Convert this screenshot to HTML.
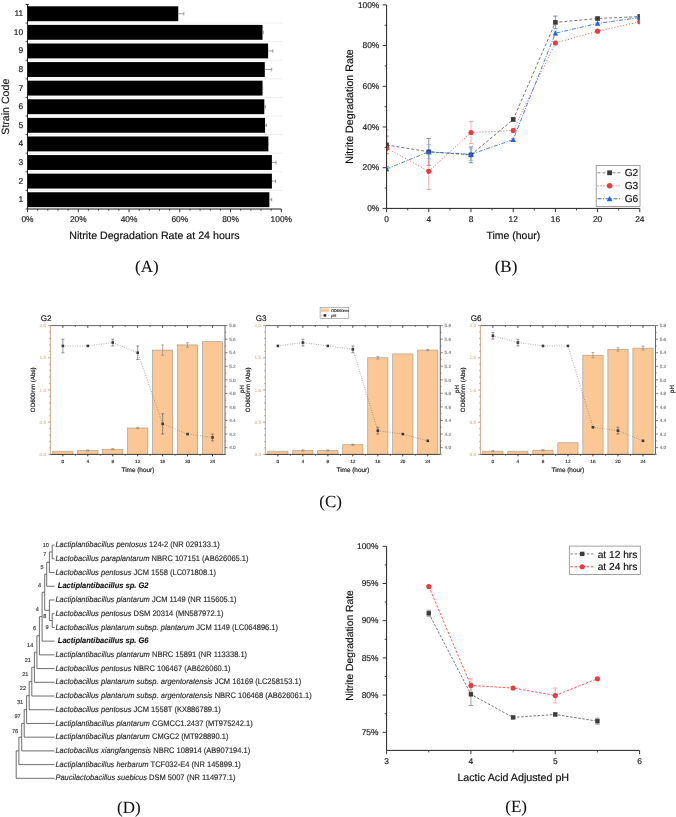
<!DOCTYPE html>
<html><head><meta charset="utf-8"><style>
html,body{margin:0;padding:0;background:#fff;width:676px;height:817px;overflow:hidden;}
svg{display:block;will-change:transform;text-rendering:geometricPrecision;}
</style></head><body>
<svg width="676" height="817" viewBox="0 0 676 817" font-family='"Liberation Sans", sans-serif'>
<rect width="676" height="817" fill="#fff"/>
<line x1="27.5" y1="209" x2="283" y2="209" stroke="#f0f0f0" stroke-width="1"/>
<line x1="27.5" y1="190.41" x2="283" y2="190.41" stroke="#f0f0f0" stroke-width="1"/>
<line x1="27.5" y1="171.81" x2="283" y2="171.81" stroke="#f0f0f0" stroke-width="1"/>
<line x1="27.5" y1="153.22" x2="283" y2="153.22" stroke="#f0f0f0" stroke-width="1"/>
<line x1="27.5" y1="134.62" x2="283" y2="134.62" stroke="#f0f0f0" stroke-width="1"/>
<line x1="27.5" y1="116.02" x2="283" y2="116.02" stroke="#f0f0f0" stroke-width="1"/>
<line x1="27.5" y1="97.43" x2="283" y2="97.43" stroke="#f0f0f0" stroke-width="1"/>
<line x1="27.5" y1="78.83" x2="283" y2="78.83" stroke="#f0f0f0" stroke-width="1"/>
<line x1="27.5" y1="60.24" x2="283" y2="60.24" stroke="#f0f0f0" stroke-width="1"/>
<line x1="27.5" y1="41.64" x2="283" y2="41.64" stroke="#f0f0f0" stroke-width="1"/>
<line x1="27.5" y1="23.05" x2="283" y2="23.05" stroke="#f0f0f0" stroke-width="1"/>
<rect x="27.5" y="192.25" width="241.87" height="14.9" fill="#000" stroke="none" stroke-width="0"/>
<line x1="269.37" y1="199.7" x2="271.66" y2="199.7" stroke="#777" stroke-width="0.7"/>
<line x1="271.66" y1="197.9" x2="271.66" y2="201.5" stroke="#777" stroke-width="0.7"/>
<rect x="27.5" y="173.66" width="244.41" height="14.9" fill="#000" stroke="none" stroke-width="0"/>
<line x1="271.91" y1="181.1" x2="275.59" y2="181.1" stroke="#777" stroke-width="0.7"/>
<line x1="275.59" y1="179.3" x2="275.59" y2="182.91" stroke="#777" stroke-width="0.7"/>
<rect x="27.5" y="155.06" width="244.41" height="14.9" fill="#000" stroke="none" stroke-width="0"/>
<line x1="271.91" y1="162.51" x2="275.97" y2="162.51" stroke="#777" stroke-width="0.7"/>
<line x1="275.97" y1="160.71" x2="275.97" y2="164.31" stroke="#777" stroke-width="0.7"/>
<rect x="27.5" y="136.47" width="240.86" height="14.9" fill="#000" stroke="none" stroke-width="0"/>
<line x1="268.36" y1="143.91" x2="268.36" y2="143.91" stroke="#777" stroke-width="0.7"/>
<line x1="268.36" y1="142.11" x2="268.36" y2="145.72" stroke="#777" stroke-width="0.7"/>
<rect x="27.5" y="117.87" width="237.56" height="14.9" fill="#000" stroke="none" stroke-width="0"/>
<line x1="265.06" y1="125.32" x2="266.58" y2="125.32" stroke="#777" stroke-width="0.7"/>
<line x1="266.58" y1="123.52" x2="266.58" y2="127.12" stroke="#777" stroke-width="0.7"/>
<rect x="27.5" y="99.27" width="236.8" height="14.9" fill="#000" stroke="none" stroke-width="0"/>
<line x1="264.3" y1="106.72" x2="265.31" y2="106.72" stroke="#777" stroke-width="0.7"/>
<line x1="265.31" y1="104.92" x2="265.31" y2="108.52" stroke="#777" stroke-width="0.7"/>
<rect x="27.5" y="80.68" width="235.02" height="14.9" fill="#000" stroke="none" stroke-width="0"/>
<line x1="262.52" y1="88.13" x2="262.77" y2="88.13" stroke="#777" stroke-width="0.7"/>
<line x1="262.77" y1="86.33" x2="262.77" y2="89.93" stroke="#777" stroke-width="0.7"/>
<rect x="27.5" y="62.08" width="237.3" height="14.9" fill="#000" stroke="none" stroke-width="0"/>
<line x1="264.8" y1="69.53" x2="271.66" y2="69.53" stroke="#777" stroke-width="0.7"/>
<line x1="271.66" y1="67.73" x2="271.66" y2="71.33" stroke="#777" stroke-width="0.7"/>
<rect x="27.5" y="43.49" width="240.6" height="14.9" fill="#000" stroke="none" stroke-width="0"/>
<line x1="268.1" y1="50.94" x2="272.92" y2="50.94" stroke="#777" stroke-width="0.7"/>
<line x1="272.92" y1="49.14" x2="272.92" y2="52.74" stroke="#777" stroke-width="0.7"/>
<rect x="27.5" y="24.89" width="235.02" height="14.9" fill="#000" stroke="none" stroke-width="0"/>
<line x1="262.52" y1="32.34" x2="263.28" y2="32.34" stroke="#777" stroke-width="0.7"/>
<line x1="263.28" y1="30.54" x2="263.28" y2="34.14" stroke="#777" stroke-width="0.7"/>
<rect x="27.5" y="6.3" width="150.76" height="14.9" fill="#000" stroke="none" stroke-width="0"/>
<line x1="178.26" y1="13.75" x2="183.84" y2="13.75" stroke="#777" stroke-width="0.7"/>
<line x1="183.84" y1="11.95" x2="183.84" y2="15.55" stroke="#777" stroke-width="0.7"/>
<line x1="27.5" y1="4.45" x2="27.5" y2="209" stroke="#222" stroke-width="1"/>
<line x1="25.5" y1="190.4" x2="27.5" y2="190.4" stroke="#222" stroke-width="0.8"/>
<line x1="25.5" y1="171.8" x2="27.5" y2="171.8" stroke="#222" stroke-width="0.8"/>
<line x1="25.5" y1="153.21" x2="27.5" y2="153.21" stroke="#222" stroke-width="0.8"/>
<line x1="25.5" y1="134.61" x2="27.5" y2="134.61" stroke="#222" stroke-width="0.8"/>
<line x1="25.5" y1="116.02" x2="27.5" y2="116.02" stroke="#222" stroke-width="0.8"/>
<line x1="25.5" y1="97.42" x2="27.5" y2="97.42" stroke="#222" stroke-width="0.8"/>
<line x1="25.5" y1="78.83" x2="27.5" y2="78.83" stroke="#222" stroke-width="0.8"/>
<line x1="25.5" y1="60.23" x2="27.5" y2="60.23" stroke="#222" stroke-width="0.8"/>
<line x1="25.5" y1="41.64" x2="27.5" y2="41.64" stroke="#222" stroke-width="0.8"/>
<line x1="25.5" y1="23.04" x2="27.5" y2="23.04" stroke="#222" stroke-width="0.8"/>
<line x1="25.5" y1="4.45" x2="27.5" y2="4.45" stroke="#222" stroke-width="0.8"/>
<line x1="25.5" y1="209" x2="27.5" y2="209" stroke="#222" stroke-width="0.8"/>
<line x1="26" y1="4.45" x2="29" y2="4.45" stroke="#222" stroke-width="0.8"/>
<line x1="27.5" y1="209" x2="281.3" y2="209" stroke="#222" stroke-width="1"/>
<line x1="27.5" y1="209" x2="27.5" y2="212.2" stroke="#222" stroke-width="0.9"/>
<line x1="37.65" y1="209" x2="37.65" y2="210.8" stroke="#222" stroke-width="0.8"/>
<line x1="47.8" y1="209" x2="47.8" y2="210.8" stroke="#222" stroke-width="0.8"/>
<line x1="57.96" y1="209" x2="57.96" y2="210.8" stroke="#222" stroke-width="0.8"/>
<line x1="68.11" y1="209" x2="68.11" y2="210.8" stroke="#222" stroke-width="0.8"/>
<line x1="78.26" y1="209" x2="78.26" y2="212.2" stroke="#222" stroke-width="0.9"/>
<line x1="88.41" y1="209" x2="88.41" y2="210.8" stroke="#222" stroke-width="0.8"/>
<line x1="98.56" y1="209" x2="98.56" y2="210.8" stroke="#222" stroke-width="0.8"/>
<line x1="108.72" y1="209" x2="108.72" y2="210.8" stroke="#222" stroke-width="0.8"/>
<line x1="118.87" y1="209" x2="118.87" y2="210.8" stroke="#222" stroke-width="0.8"/>
<line x1="129.02" y1="209" x2="129.02" y2="212.2" stroke="#222" stroke-width="0.9"/>
<line x1="139.17" y1="209" x2="139.17" y2="210.8" stroke="#222" stroke-width="0.8"/>
<line x1="149.32" y1="209" x2="149.32" y2="210.8" stroke="#222" stroke-width="0.8"/>
<line x1="159.48" y1="209" x2="159.48" y2="210.8" stroke="#222" stroke-width="0.8"/>
<line x1="169.63" y1="209" x2="169.63" y2="210.8" stroke="#222" stroke-width="0.8"/>
<line x1="179.78" y1="209" x2="179.78" y2="212.2" stroke="#222" stroke-width="0.9"/>
<line x1="189.93" y1="209" x2="189.93" y2="210.8" stroke="#222" stroke-width="0.8"/>
<line x1="200.08" y1="209" x2="200.08" y2="210.8" stroke="#222" stroke-width="0.8"/>
<line x1="210.24" y1="209" x2="210.24" y2="210.8" stroke="#222" stroke-width="0.8"/>
<line x1="220.39" y1="209" x2="220.39" y2="210.8" stroke="#222" stroke-width="0.8"/>
<line x1="230.54" y1="209" x2="230.54" y2="212.2" stroke="#222" stroke-width="0.9"/>
<line x1="240.69" y1="209" x2="240.69" y2="210.8" stroke="#222" stroke-width="0.8"/>
<line x1="250.84" y1="209" x2="250.84" y2="210.8" stroke="#222" stroke-width="0.8"/>
<line x1="261" y1="209" x2="261" y2="210.8" stroke="#222" stroke-width="0.8"/>
<line x1="271.15" y1="209" x2="271.15" y2="210.8" stroke="#222" stroke-width="0.8"/>
<line x1="281.3" y1="209" x2="281.3" y2="212.2" stroke="#222" stroke-width="0.9"/>
<text x="27.5" y="222.02" font-size="8.4" text-anchor="middle" fill="#222" font-family='"Liberation Sans", sans-serif' font-weight="normal" font-style="normal" stroke="#222" stroke-width="0.18" stroke-linejoin="round">0%</text>
<text x="78.26" y="222.02" font-size="8.4" text-anchor="middle" fill="#222" font-family='"Liberation Sans", sans-serif' font-weight="normal" font-style="normal" stroke="#222" stroke-width="0.18" stroke-linejoin="round">20%</text>
<text x="129.02" y="222.02" font-size="8.4" text-anchor="middle" fill="#222" font-family='"Liberation Sans", sans-serif' font-weight="normal" font-style="normal" stroke="#222" stroke-width="0.18" stroke-linejoin="round">40%</text>
<text x="179.78" y="222.02" font-size="8.4" text-anchor="middle" fill="#222" font-family='"Liberation Sans", sans-serif' font-weight="normal" font-style="normal" stroke="#222" stroke-width="0.18" stroke-linejoin="round">60%</text>
<text x="230.54" y="222.02" font-size="8.4" text-anchor="middle" fill="#222" font-family='"Liberation Sans", sans-serif' font-weight="normal" font-style="normal" stroke="#222" stroke-width="0.18" stroke-linejoin="round">80%</text>
<text x="281.3" y="222.02" font-size="8.4" text-anchor="middle" fill="#222" font-family='"Liberation Sans", sans-serif' font-weight="normal" font-style="normal" stroke="#222" stroke-width="0.18" stroke-linejoin="round">100%</text>
<text x="23.2" y="202.22" font-size="8.4" text-anchor="end" fill="#222" font-family='"Liberation Sans", sans-serif' font-weight="normal" font-style="normal" stroke="#222" stroke-width="0.18" stroke-linejoin="round">1</text>
<text x="23.2" y="183.63" font-size="8.4" text-anchor="end" fill="#222" font-family='"Liberation Sans", sans-serif' font-weight="normal" font-style="normal" stroke="#222" stroke-width="0.18" stroke-linejoin="round">2</text>
<text x="23.2" y="165.03" font-size="8.4" text-anchor="end" fill="#222" font-family='"Liberation Sans", sans-serif' font-weight="normal" font-style="normal" stroke="#222" stroke-width="0.18" stroke-linejoin="round">3</text>
<text x="23.2" y="146.44" font-size="8.4" text-anchor="end" fill="#222" font-family='"Liberation Sans", sans-serif' font-weight="normal" font-style="normal" stroke="#222" stroke-width="0.18" stroke-linejoin="round">4</text>
<text x="23.2" y="127.84" font-size="8.4" text-anchor="end" fill="#222" font-family='"Liberation Sans", sans-serif' font-weight="normal" font-style="normal" stroke="#222" stroke-width="0.18" stroke-linejoin="round">5</text>
<text x="23.2" y="109.25" font-size="8.4" text-anchor="end" fill="#222" font-family='"Liberation Sans", sans-serif' font-weight="normal" font-style="normal" stroke="#222" stroke-width="0.18" stroke-linejoin="round">6</text>
<text x="23.2" y="90.65" font-size="8.4" text-anchor="end" fill="#222" font-family='"Liberation Sans", sans-serif' font-weight="normal" font-style="normal" stroke="#222" stroke-width="0.18" stroke-linejoin="round">7</text>
<text x="23.2" y="72.06" font-size="8.4" text-anchor="end" fill="#222" font-family='"Liberation Sans", sans-serif' font-weight="normal" font-style="normal" stroke="#222" stroke-width="0.18" stroke-linejoin="round">8</text>
<text x="23.2" y="53.46" font-size="8.4" text-anchor="end" fill="#222" font-family='"Liberation Sans", sans-serif' font-weight="normal" font-style="normal" stroke="#222" stroke-width="0.18" stroke-linejoin="round">9</text>
<text x="23.2" y="34.87" font-size="8.4" text-anchor="end" fill="#222" font-family='"Liberation Sans", sans-serif' font-weight="normal" font-style="normal" stroke="#222" stroke-width="0.18" stroke-linejoin="round">10</text>
<text x="23.2" y="16.27" font-size="8.4" text-anchor="end" fill="#222" font-family='"Liberation Sans", sans-serif' font-weight="normal" font-style="normal" stroke="#222" stroke-width="0.18" stroke-linejoin="round">11</text>
<text x="9.1" y="106.7" font-size="10.6" text-anchor="middle" fill="#222" font-family='"Liberation Sans", sans-serif' font-weight="normal" font-style="normal" transform="rotate(-90 9.1 106.7)" stroke="#222" stroke-width="0.18" stroke-linejoin="round">Strain Code</text>
<text x="154.45" y="238.9" font-size="10.65" text-anchor="middle" fill="#111" font-family='"Liberation Sans", sans-serif' font-weight="normal" font-style="normal" stroke="#111" stroke-width="0.18" stroke-linejoin="round">Nitrite Degradation Rate at 24 hours</text>
<text x="146.9" y="271.8" font-size="17" text-anchor="middle" fill="#111" font-family='"Liberation Serif", serif' font-weight="normal" font-style="normal" stroke="#111" stroke-width="0.05" stroke-linejoin="round">(A)</text>
<defs><clipPath id="cb"><rect x="386.6" y="4.4" width="253.2" height="204"/></clipPath>
<clipPath id="ce"><rect x="386.6" y="540" width="253" height="210.4"/></clipPath></defs>
<g clip-path="url(#cb)">
<line x1="386.6" y1="136.16" x2="386.6" y2="153.66" stroke="#666" stroke-width="0.7"/>
<line x1="384.4" y1="136.16" x2="388.8" y2="136.16" stroke="#666" stroke-width="0.7"/>
<line x1="384.4" y1="153.66" x2="388.8" y2="153.66" stroke="#666" stroke-width="0.7"/>
<line x1="428.8" y1="138.4" x2="428.8" y2="165.26" stroke="#666" stroke-width="0.7"/>
<line x1="426.6" y1="138.4" x2="431" y2="138.4" stroke="#666" stroke-width="0.7"/>
<line x1="426.6" y1="165.26" x2="431" y2="165.26" stroke="#666" stroke-width="0.7"/>
<line x1="471" y1="146.94" x2="471" y2="162.82" stroke="#666" stroke-width="0.7"/>
<line x1="468.8" y1="146.94" x2="473.2" y2="146.94" stroke="#666" stroke-width="0.7"/>
<line x1="468.8" y1="162.82" x2="473.2" y2="162.82" stroke="#666" stroke-width="0.7"/>
<line x1="513.2" y1="117.84" x2="513.2" y2="121.1" stroke="#666" stroke-width="0.7"/>
<line x1="511" y1="117.84" x2="515.4" y2="117.84" stroke="#666" stroke-width="0.7"/>
<line x1="511" y1="121.1" x2="515.4" y2="121.1" stroke="#666" stroke-width="0.7"/>
<line x1="555.4" y1="16.09" x2="555.4" y2="28.71" stroke="#666" stroke-width="0.7"/>
<line x1="553.2" y1="16.09" x2="557.6" y2="16.09" stroke="#666" stroke-width="0.7"/>
<line x1="553.2" y1="28.71" x2="557.6" y2="28.71" stroke="#666" stroke-width="0.7"/>
<line x1="597.6" y1="17.31" x2="597.6" y2="19.76" stroke="#666" stroke-width="0.7"/>
<line x1="595.4" y1="17.31" x2="599.8" y2="17.31" stroke="#666" stroke-width="0.7"/>
<line x1="595.4" y1="19.76" x2="599.8" y2="19.76" stroke="#666" stroke-width="0.7"/>
<line x1="639.8" y1="14.87" x2="639.8" y2="18.13" stroke="#666" stroke-width="0.7"/>
<line x1="637.6" y1="14.87" x2="642" y2="14.87" stroke="#666" stroke-width="0.7"/>
<line x1="637.6" y1="18.13" x2="642" y2="18.13" stroke="#666" stroke-width="0.7"/>
<line x1="386.6" y1="129.85" x2="386.6" y2="166.48" stroke="#f08a8a" stroke-width="0.7"/>
<line x1="384.4" y1="129.85" x2="388.8" y2="129.85" stroke="#f08a8a" stroke-width="0.7"/>
<line x1="384.4" y1="166.48" x2="388.8" y2="166.48" stroke="#f08a8a" stroke-width="0.7"/>
<line x1="428.8" y1="153.25" x2="428.8" y2="189.47" stroke="#f08a8a" stroke-width="0.7"/>
<line x1="426.6" y1="153.25" x2="431" y2="153.25" stroke="#f08a8a" stroke-width="0.7"/>
<line x1="426.6" y1="189.47" x2="431" y2="189.47" stroke="#f08a8a" stroke-width="0.7"/>
<line x1="471" y1="121.51" x2="471" y2="143.48" stroke="#f08a8a" stroke-width="0.7"/>
<line x1="468.8" y1="121.51" x2="473.2" y2="121.51" stroke="#f08a8a" stroke-width="0.7"/>
<line x1="468.8" y1="143.48" x2="473.2" y2="143.48" stroke="#f08a8a" stroke-width="0.7"/>
<line x1="513.2" y1="128.83" x2="513.2" y2="132.09" stroke="#f08a8a" stroke-width="0.7"/>
<line x1="511" y1="128.83" x2="515.4" y2="128.83" stroke="#f08a8a" stroke-width="0.7"/>
<line x1="511" y1="132.09" x2="515.4" y2="132.09" stroke="#f08a8a" stroke-width="0.7"/>
<line x1="555.4" y1="41.12" x2="555.4" y2="44.79" stroke="#f08a8a" stroke-width="0.7"/>
<line x1="553.2" y1="41.12" x2="557.6" y2="41.12" stroke="#f08a8a" stroke-width="0.7"/>
<line x1="553.2" y1="44.79" x2="557.6" y2="44.79" stroke="#f08a8a" stroke-width="0.7"/>
<line x1="597.6" y1="29.73" x2="597.6" y2="32.58" stroke="#f08a8a" stroke-width="0.7"/>
<line x1="595.4" y1="29.73" x2="599.8" y2="29.73" stroke="#f08a8a" stroke-width="0.7"/>
<line x1="595.4" y1="32.58" x2="599.8" y2="32.58" stroke="#f08a8a" stroke-width="0.7"/>
<line x1="639.8" y1="20.16" x2="639.8" y2="23.42" stroke="#f08a8a" stroke-width="0.7"/>
<line x1="637.6" y1="20.16" x2="642" y2="20.16" stroke="#f08a8a" stroke-width="0.7"/>
<line x1="637.6" y1="23.42" x2="642" y2="23.42" stroke="#f08a8a" stroke-width="0.7"/>
<line x1="386.6" y1="166.89" x2="386.6" y2="170.96" stroke="#7aa6ee" stroke-width="0.7"/>
<line x1="384.4" y1="166.89" x2="388.8" y2="166.89" stroke="#7aa6ee" stroke-width="0.7"/>
<line x1="384.4" y1="170.96" x2="388.8" y2="170.96" stroke="#7aa6ee" stroke-width="0.7"/>
<line x1="428.8" y1="144.7" x2="428.8" y2="158.95" stroke="#7aa6ee" stroke-width="0.7"/>
<line x1="426.6" y1="144.7" x2="431" y2="144.7" stroke="#7aa6ee" stroke-width="0.7"/>
<line x1="426.6" y1="158.95" x2="431" y2="158.95" stroke="#7aa6ee" stroke-width="0.7"/>
<line x1="471" y1="148.16" x2="471" y2="160.37" stroke="#7aa6ee" stroke-width="0.7"/>
<line x1="468.8" y1="148.16" x2="473.2" y2="148.16" stroke="#7aa6ee" stroke-width="0.7"/>
<line x1="468.8" y1="160.37" x2="473.2" y2="160.37" stroke="#7aa6ee" stroke-width="0.7"/>
<line x1="513.2" y1="138.6" x2="513.2" y2="140.63" stroke="#7aa6ee" stroke-width="0.7"/>
<line x1="511" y1="138.6" x2="515.4" y2="138.6" stroke="#7aa6ee" stroke-width="0.7"/>
<line x1="511" y1="140.63" x2="515.4" y2="140.63" stroke="#7aa6ee" stroke-width="0.7"/>
<line x1="555.4" y1="31.15" x2="555.4" y2="35.22" stroke="#7aa6ee" stroke-width="0.7"/>
<line x1="553.2" y1="31.15" x2="557.6" y2="31.15" stroke="#7aa6ee" stroke-width="0.7"/>
<line x1="553.2" y1="35.22" x2="557.6" y2="35.22" stroke="#7aa6ee" stroke-width="0.7"/>
<line x1="597.6" y1="22.2" x2="597.6" y2="24.64" stroke="#7aa6ee" stroke-width="0.7"/>
<line x1="595.4" y1="22.2" x2="599.8" y2="22.2" stroke="#7aa6ee" stroke-width="0.7"/>
<line x1="595.4" y1="24.64" x2="599.8" y2="24.64" stroke="#7aa6ee" stroke-width="0.7"/>
<line x1="639.8" y1="16.09" x2="639.8" y2="18.94" stroke="#7aa6ee" stroke-width="0.7"/>
<line x1="637.6" y1="16.09" x2="642" y2="16.09" stroke="#7aa6ee" stroke-width="0.7"/>
<line x1="637.6" y1="18.94" x2="642" y2="18.94" stroke="#7aa6ee" stroke-width="0.7"/>
<polyline points="386.6,144.91 428.8,151.83 471,154.88 513.2,119.47 555.4,22.4 597.6,18.53 639.8,16.5" fill="none" stroke="#555" stroke-width="0.8" stroke-dasharray="3,2"/>
<polyline points="386.6,148.16 428.8,171.36 471,132.49 513.2,130.46 555.4,42.95 597.6,31.15 639.8,21.79" fill="none" stroke="#ec3a3e" stroke-width="0.8" stroke-dasharray="1,2"/>
<polyline points="386.6,168.92 428.8,151.83 471,154.27 513.2,139.62 555.4,33.19 597.6,23.42 639.8,17.52" fill="none" stroke="#1e64dc" stroke-width="0.8" stroke-dasharray="4,1.5,1,1.5"/>
<rect x="384.3" y="142.61" width="4.6" height="4.6" fill="#3c3c3c" stroke="none" stroke-width="0"/>
<rect x="426.5" y="149.53" width="4.6" height="4.6" fill="#3c3c3c" stroke="none" stroke-width="0"/>
<rect x="468.7" y="152.58" width="4.6" height="4.6" fill="#3c3c3c" stroke="none" stroke-width="0"/>
<rect x="510.9" y="117.17" width="4.6" height="4.6" fill="#3c3c3c" stroke="none" stroke-width="0"/>
<rect x="553.1" y="20.1" width="4.6" height="4.6" fill="#3c3c3c" stroke="none" stroke-width="0"/>
<rect x="595.3" y="16.23" width="4.6" height="4.6" fill="#3c3c3c" stroke="none" stroke-width="0"/>
<rect x="637.5" y="14.2" width="4.6" height="4.6" fill="#3c3c3c" stroke="none" stroke-width="0"/>
<circle cx="386.6" cy="148.16" r="2.55" fill="#ec3a3e"/>
<circle cx="428.8" cy="171.36" r="2.55" fill="#ec3a3e"/>
<circle cx="471" cy="132.49" r="2.55" fill="#ec3a3e"/>
<circle cx="513.2" cy="130.46" r="2.55" fill="#ec3a3e"/>
<circle cx="555.4" cy="42.95" r="2.55" fill="#ec3a3e"/>
<circle cx="597.6" cy="31.15" r="2.55" fill="#ec3a3e"/>
<circle cx="639.8" cy="21.79" r="2.55" fill="#ec3a3e"/>
<polygon points="386.6,166.22 383.9,171.32 389.3,171.32" fill="#1e64dc"/>
<polygon points="428.8,149.13 426.1,154.23 431.5,154.23" fill="#1e64dc"/>
<polygon points="471,151.57 468.3,156.67 473.7,156.67" fill="#1e64dc"/>
<polygon points="513.2,136.92 510.5,142.02 515.9,142.02" fill="#1e64dc"/>
<polygon points="555.4,30.49 552.7,35.59 558.1,35.59" fill="#1e64dc"/>
<polygon points="597.6,20.72 594.9,25.82 600.3,25.82" fill="#1e64dc"/>
<polygon points="639.8,14.82 637.1,19.92 642.5,19.92" fill="#1e64dc"/>
</g>
<line x1="386.6" y1="4.9" x2="386.6" y2="208.4" stroke="#222" stroke-width="1"/>
<line x1="386.6" y1="208.4" x2="639.8" y2="208.4" stroke="#222" stroke-width="1"/>
<line x1="382.6" y1="208.4" x2="386.6" y2="208.4" stroke="#222" stroke-width="0.9"/>
<text x="379.3" y="211.02" font-size="8.4" text-anchor="end" fill="#222" font-family='"Liberation Sans", sans-serif' font-weight="normal" font-style="normal" stroke="#222" stroke-width="0.18" stroke-linejoin="round">0%</text>
<line x1="384.6" y1="188.05" x2="386.6" y2="188.05" stroke="#222" stroke-width="0.8"/>
<line x1="382.6" y1="167.7" x2="386.6" y2="167.7" stroke="#222" stroke-width="0.9"/>
<text x="379.3" y="170.32" font-size="8.4" text-anchor="end" fill="#222" font-family='"Liberation Sans", sans-serif' font-weight="normal" font-style="normal" stroke="#222" stroke-width="0.18" stroke-linejoin="round">20%</text>
<line x1="384.6" y1="147.35" x2="386.6" y2="147.35" stroke="#222" stroke-width="0.8"/>
<line x1="382.6" y1="127" x2="386.6" y2="127" stroke="#222" stroke-width="0.9"/>
<text x="379.3" y="129.62" font-size="8.4" text-anchor="end" fill="#222" font-family='"Liberation Sans", sans-serif' font-weight="normal" font-style="normal" stroke="#222" stroke-width="0.18" stroke-linejoin="round">40%</text>
<line x1="384.6" y1="106.65" x2="386.6" y2="106.65" stroke="#222" stroke-width="0.8"/>
<line x1="382.6" y1="86.3" x2="386.6" y2="86.3" stroke="#222" stroke-width="0.9"/>
<text x="379.3" y="88.92" font-size="8.4" text-anchor="end" fill="#222" font-family='"Liberation Sans", sans-serif' font-weight="normal" font-style="normal" stroke="#222" stroke-width="0.18" stroke-linejoin="round">60%</text>
<line x1="384.6" y1="65.95" x2="386.6" y2="65.95" stroke="#222" stroke-width="0.8"/>
<line x1="382.6" y1="45.6" x2="386.6" y2="45.6" stroke="#222" stroke-width="0.9"/>
<text x="379.3" y="48.22" font-size="8.4" text-anchor="end" fill="#222" font-family='"Liberation Sans", sans-serif' font-weight="normal" font-style="normal" stroke="#222" stroke-width="0.18" stroke-linejoin="round">80%</text>
<line x1="384.6" y1="25.25" x2="386.6" y2="25.25" stroke="#222" stroke-width="0.8"/>
<line x1="382.6" y1="4.9" x2="386.6" y2="4.9" stroke="#222" stroke-width="0.9"/>
<text x="379.3" y="7.52" font-size="8.4" text-anchor="end" fill="#222" font-family='"Liberation Sans", sans-serif' font-weight="normal" font-style="normal" stroke="#222" stroke-width="0.18" stroke-linejoin="round">100%</text>
<line x1="386.6" y1="208.4" x2="386.6" y2="212.2" stroke="#222" stroke-width="0.9"/>
<text x="386.6" y="222.32" font-size="8.4" text-anchor="middle" fill="#222" font-family='"Liberation Sans", sans-serif' font-weight="normal" font-style="normal" stroke="#222" stroke-width="0.18" stroke-linejoin="round">0</text>
<line x1="407.7" y1="208.4" x2="407.7" y2="210.4" stroke="#222" stroke-width="0.8"/>
<line x1="428.8" y1="208.4" x2="428.8" y2="212.2" stroke="#222" stroke-width="0.9"/>
<text x="428.8" y="222.32" font-size="8.4" text-anchor="middle" fill="#222" font-family='"Liberation Sans", sans-serif' font-weight="normal" font-style="normal" stroke="#222" stroke-width="0.18" stroke-linejoin="round">4</text>
<line x1="449.9" y1="208.4" x2="449.9" y2="210.4" stroke="#222" stroke-width="0.8"/>
<line x1="471" y1="208.4" x2="471" y2="212.2" stroke="#222" stroke-width="0.9"/>
<text x="471" y="222.32" font-size="8.4" text-anchor="middle" fill="#222" font-family='"Liberation Sans", sans-serif' font-weight="normal" font-style="normal" stroke="#222" stroke-width="0.18" stroke-linejoin="round">8</text>
<line x1="492.1" y1="208.4" x2="492.1" y2="210.4" stroke="#222" stroke-width="0.8"/>
<line x1="513.2" y1="208.4" x2="513.2" y2="212.2" stroke="#222" stroke-width="0.9"/>
<text x="513.2" y="222.32" font-size="8.4" text-anchor="middle" fill="#222" font-family='"Liberation Sans", sans-serif' font-weight="normal" font-style="normal" stroke="#222" stroke-width="0.18" stroke-linejoin="round">12</text>
<line x1="534.3" y1="208.4" x2="534.3" y2="210.4" stroke="#222" stroke-width="0.8"/>
<line x1="555.4" y1="208.4" x2="555.4" y2="212.2" stroke="#222" stroke-width="0.9"/>
<text x="555.4" y="222.32" font-size="8.4" text-anchor="middle" fill="#222" font-family='"Liberation Sans", sans-serif' font-weight="normal" font-style="normal" stroke="#222" stroke-width="0.18" stroke-linejoin="round">16</text>
<line x1="576.5" y1="208.4" x2="576.5" y2="210.4" stroke="#222" stroke-width="0.8"/>
<line x1="597.6" y1="208.4" x2="597.6" y2="212.2" stroke="#222" stroke-width="0.9"/>
<text x="597.6" y="222.32" font-size="8.4" text-anchor="middle" fill="#222" font-family='"Liberation Sans", sans-serif' font-weight="normal" font-style="normal" stroke="#222" stroke-width="0.18" stroke-linejoin="round">20</text>
<line x1="618.7" y1="208.4" x2="618.7" y2="210.4" stroke="#222" stroke-width="0.8"/>
<line x1="639.8" y1="208.4" x2="639.8" y2="212.2" stroke="#222" stroke-width="0.9"/>
<text x="639.8" y="222.32" font-size="8.4" text-anchor="middle" fill="#222" font-family='"Liberation Sans", sans-serif' font-weight="normal" font-style="normal" stroke="#222" stroke-width="0.18" stroke-linejoin="round">24</text>
<text x="353.1" y="106.5" font-size="10.7" text-anchor="middle" fill="#111" font-family='"Liberation Sans", sans-serif' font-weight="normal" font-style="normal" transform="rotate(-90 353.1 106.5)" stroke="#111" stroke-width="0.18" stroke-linejoin="round">Nitrite Degradation Rate</text>
<text x="513.35" y="239" font-size="10.5" text-anchor="middle" fill="#111" font-family='"Liberation Sans", sans-serif' font-weight="normal" font-style="normal" stroke="#111" stroke-width="0.18" stroke-linejoin="round">Time (hour)</text>
<text x="506" y="271.7" font-size="17" text-anchor="middle" fill="#111" font-family='"Liberation Serif", serif' font-weight="normal" font-style="normal" stroke="#111" stroke-width="0.05" stroke-linejoin="round">(B)</text>
<rect x="596.2" y="165.4" width="43.8" height="41.2" fill="#fff" stroke="#8a8a8a" stroke-width="0.8"/>
<line x1="597.5" y1="172.8" x2="620.8" y2="172.8" stroke="#777" stroke-width="0.9" stroke-dasharray="3,2"/>
<rect x="607.19" y="170.39" width="4.83" height="4.83" fill="#3c3c3c" stroke="none" stroke-width="0"/>
<text x="624.7" y="176.47" font-size="10.2" text-anchor="start" fill="#111" font-family='"Liberation Sans", sans-serif' font-weight="normal" font-style="normal" stroke="#111" stroke-width="0.18" stroke-linejoin="round">G2</text>
<line x1="597.5" y1="185.8" x2="620.8" y2="185.8" stroke="#ec3a3e" stroke-width="0.9" stroke-dasharray="1,2"/>
<circle cx="609.6" cy="185.8" r="2.68" fill="#ec3a3e"/>
<text x="624.7" y="189.47" font-size="10.2" text-anchor="start" fill="#111" font-family='"Liberation Sans", sans-serif' font-weight="normal" font-style="normal" stroke="#111" stroke-width="0.18" stroke-linejoin="round">G3</text>
<line x1="597.5" y1="198.8" x2="620.8" y2="198.8" stroke="#1e64dc" stroke-width="0.9" stroke-dasharray="4,1.5,1,1.5"/>
<polygon points="609.6,195.98 606.76,201.32 612.44,201.32" fill="#1e64dc"/>
<text x="624.7" y="202.47" font-size="10.2" text-anchor="start" fill="#111" font-family='"Liberation Sans", sans-serif' font-weight="normal" font-style="normal" stroke="#111" stroke-width="0.18" stroke-linejoin="round">G6</text>
<rect x="52.77" y="451.18" width="20.2" height="3.22" fill="#fbc794" stroke="#a09488" stroke-width="0.6"/>
<rect x="77.71" y="450.54" width="20.2" height="3.86" fill="#fbc794" stroke="#a09488" stroke-width="0.6"/>
<rect x="102.66" y="449.25" width="20.2" height="5.15" fill="#fbc794" stroke="#a09488" stroke-width="0.6"/>
<rect x="127.6" y="428" width="20.2" height="26.4" fill="#fbc794" stroke="#a09488" stroke-width="0.6"/>
<rect x="152.54" y="350.07" width="20.2" height="104.33" fill="#fbc794" stroke="#a09488" stroke-width="0.6"/>
<rect x="177.49" y="344.92" width="20.2" height="109.48" fill="#fbc794" stroke="#a09488" stroke-width="0.6"/>
<rect x="202.43" y="341.7" width="20.2" height="112.7" fill="#fbc794" stroke="#a09488" stroke-width="0.6"/>
<line x1="87.81" y1="449.89" x2="87.81" y2="451.18" stroke="#8a7f77" stroke-width="0.6"/>
<line x1="86.31" y1="449.89" x2="89.31" y2="449.89" stroke="#8a7f77" stroke-width="0.6"/>
<line x1="86.31" y1="451.18" x2="89.31" y2="451.18" stroke="#8a7f77" stroke-width="0.6"/>
<line x1="112.76" y1="448.6" x2="112.76" y2="449.89" stroke="#8a7f77" stroke-width="0.6"/>
<line x1="111.26" y1="448.6" x2="114.26" y2="448.6" stroke="#8a7f77" stroke-width="0.6"/>
<line x1="111.26" y1="449.89" x2="114.26" y2="449.89" stroke="#8a7f77" stroke-width="0.6"/>
<line x1="137.7" y1="427.35" x2="137.7" y2="428.64" stroke="#8a7f77" stroke-width="0.6"/>
<line x1="136.2" y1="427.35" x2="139.2" y2="427.35" stroke="#8a7f77" stroke-width="0.6"/>
<line x1="136.2" y1="428.64" x2="139.2" y2="428.64" stroke="#8a7f77" stroke-width="0.6"/>
<line x1="162.64" y1="344.92" x2="162.64" y2="355.22" stroke="#8a7f77" stroke-width="0.6"/>
<line x1="161.14" y1="344.92" x2="164.14" y2="344.92" stroke="#8a7f77" stroke-width="0.6"/>
<line x1="161.14" y1="355.22" x2="164.14" y2="355.22" stroke="#8a7f77" stroke-width="0.6"/>
<line x1="187.59" y1="342.67" x2="187.59" y2="347.17" stroke="#8a7f77" stroke-width="0.6"/>
<line x1="186.09" y1="342.67" x2="189.09" y2="342.67" stroke="#8a7f77" stroke-width="0.6"/>
<line x1="186.09" y1="347.17" x2="189.09" y2="347.17" stroke="#8a7f77" stroke-width="0.6"/>
<line x1="62.87" y1="339.16" x2="62.87" y2="352.71" stroke="#555" stroke-width="0.6"/>
<line x1="61.37" y1="339.16" x2="64.37" y2="339.16" stroke="#555" stroke-width="0.6"/>
<line x1="61.37" y1="352.71" x2="64.37" y2="352.71" stroke="#555" stroke-width="0.6"/>
<line x1="112.76" y1="339.16" x2="112.76" y2="345.94" stroke="#555" stroke-width="0.6"/>
<line x1="111.26" y1="339.16" x2="114.26" y2="339.16" stroke="#555" stroke-width="0.6"/>
<line x1="111.26" y1="345.94" x2="114.26" y2="345.94" stroke="#555" stroke-width="0.6"/>
<line x1="137.7" y1="345.94" x2="137.7" y2="359.49" stroke="#555" stroke-width="0.6"/>
<line x1="136.2" y1="345.94" x2="139.2" y2="345.94" stroke="#555" stroke-width="0.6"/>
<line x1="136.2" y1="359.49" x2="139.2" y2="359.49" stroke="#555" stroke-width="0.6"/>
<line x1="162.64" y1="413.73" x2="162.64" y2="434.06" stroke="#555" stroke-width="0.6"/>
<line x1="161.14" y1="413.73" x2="164.14" y2="413.73" stroke="#555" stroke-width="0.6"/>
<line x1="161.14" y1="434.06" x2="164.14" y2="434.06" stroke="#555" stroke-width="0.6"/>
<line x1="212.53" y1="434.06" x2="212.53" y2="440.84" stroke="#555" stroke-width="0.6"/>
<line x1="211.03" y1="434.06" x2="214.03" y2="434.06" stroke="#555" stroke-width="0.6"/>
<line x1="211.03" y1="440.84" x2="214.03" y2="440.84" stroke="#555" stroke-width="0.6"/>
<polyline points="62.87,345.94 87.81,345.94 112.76,342.55 137.7,352.71 162.64,423.89 187.59,434.06 212.53,437.45" fill="none" stroke="#666" stroke-width="0.65" stroke-dasharray="0.8,1.6"/>
<rect x="61.57" y="344.64" width="2.6" height="2.6" fill="#3a3a3a" stroke="none" stroke-width="0"/>
<rect x="86.51" y="344.64" width="2.6" height="2.6" fill="#3a3a3a" stroke="none" stroke-width="0"/>
<rect x="111.46" y="341.25" width="2.6" height="2.6" fill="#3a3a3a" stroke="none" stroke-width="0"/>
<rect x="136.4" y="351.41" width="2.6" height="2.6" fill="#3a3a3a" stroke="none" stroke-width="0"/>
<rect x="161.34" y="422.59" width="2.6" height="2.6" fill="#3a3a3a" stroke="none" stroke-width="0"/>
<rect x="186.29" y="432.76" width="2.6" height="2.6" fill="#3a3a3a" stroke="none" stroke-width="0"/>
<rect x="211.23" y="436.15" width="2.6" height="2.6" fill="#3a3a3a" stroke="none" stroke-width="0"/>
<line x1="50.4" y1="325.6" x2="225" y2="325.6" stroke="#555" stroke-width="0.9"/>
<line x1="225" y1="325.6" x2="225" y2="454.4" stroke="#555" stroke-width="0.9"/>
<line x1="49.9" y1="454.4" x2="225" y2="454.4" stroke="#333" stroke-width="0.9"/>
<line x1="50.4" y1="325.6" x2="50.4" y2="454.4" stroke="#c8a27c" stroke-width="0.9"/>
<line x1="62.87" y1="454.4" x2="62.87" y2="456.4" stroke="#222" stroke-width="0.9"/>
<line x1="62.87" y1="325.6" x2="62.87" y2="327.8" stroke="#333" stroke-width="0.9"/>
<text x="62.87" y="462.59" font-size="4.7" text-anchor="middle" fill="#333" font-family='"Liberation Sans", sans-serif' font-weight="normal" font-style="normal" stroke="#333" stroke-width="0.18" stroke-linejoin="round">0</text>
<line x1="87.81" y1="454.4" x2="87.81" y2="456.4" stroke="#222" stroke-width="0.9"/>
<line x1="87.81" y1="325.6" x2="87.81" y2="327.8" stroke="#333" stroke-width="0.9"/>
<text x="87.81" y="462.59" font-size="4.7" text-anchor="middle" fill="#333" font-family='"Liberation Sans", sans-serif' font-weight="normal" font-style="normal" stroke="#333" stroke-width="0.18" stroke-linejoin="round">4</text>
<line x1="112.76" y1="454.4" x2="112.76" y2="456.4" stroke="#222" stroke-width="0.9"/>
<line x1="112.76" y1="325.6" x2="112.76" y2="327.8" stroke="#333" stroke-width="0.9"/>
<text x="112.76" y="462.59" font-size="4.7" text-anchor="middle" fill="#333" font-family='"Liberation Sans", sans-serif' font-weight="normal" font-style="normal" stroke="#333" stroke-width="0.18" stroke-linejoin="round">8</text>
<line x1="137.7" y1="454.4" x2="137.7" y2="456.4" stroke="#222" stroke-width="0.9"/>
<line x1="137.7" y1="325.6" x2="137.7" y2="327.8" stroke="#333" stroke-width="0.9"/>
<text x="137.7" y="462.59" font-size="4.7" text-anchor="middle" fill="#333" font-family='"Liberation Sans", sans-serif' font-weight="normal" font-style="normal" stroke="#333" stroke-width="0.18" stroke-linejoin="round">12</text>
<line x1="162.64" y1="454.4" x2="162.64" y2="456.4" stroke="#222" stroke-width="0.9"/>
<line x1="162.64" y1="325.6" x2="162.64" y2="327.8" stroke="#333" stroke-width="0.9"/>
<text x="162.64" y="462.59" font-size="4.7" text-anchor="middle" fill="#333" font-family='"Liberation Sans", sans-serif' font-weight="normal" font-style="normal" stroke="#333" stroke-width="0.18" stroke-linejoin="round">16</text>
<line x1="187.59" y1="454.4" x2="187.59" y2="456.4" stroke="#222" stroke-width="0.9"/>
<line x1="187.59" y1="325.6" x2="187.59" y2="327.8" stroke="#333" stroke-width="0.9"/>
<text x="187.59" y="462.59" font-size="4.7" text-anchor="middle" fill="#333" font-family='"Liberation Sans", sans-serif' font-weight="normal" font-style="normal" stroke="#333" stroke-width="0.18" stroke-linejoin="round">20</text>
<line x1="212.53" y1="454.4" x2="212.53" y2="456.4" stroke="#222" stroke-width="0.9"/>
<line x1="212.53" y1="325.6" x2="212.53" y2="327.8" stroke="#333" stroke-width="0.9"/>
<text x="212.53" y="462.59" font-size="4.7" text-anchor="middle" fill="#333" font-family='"Liberation Sans", sans-serif' font-weight="normal" font-style="normal" stroke="#333" stroke-width="0.18" stroke-linejoin="round">24</text>
<line x1="75.34" y1="454.4" x2="75.34" y2="455.7" stroke="#333" stroke-width="0.8"/>
<line x1="75.34" y1="325.6" x2="75.34" y2="326.9" stroke="#444" stroke-width="0.8"/>
<line x1="100.29" y1="454.4" x2="100.29" y2="455.7" stroke="#333" stroke-width="0.8"/>
<line x1="100.29" y1="325.6" x2="100.29" y2="326.9" stroke="#444" stroke-width="0.8"/>
<line x1="125.23" y1="454.4" x2="125.23" y2="455.7" stroke="#333" stroke-width="0.8"/>
<line x1="125.23" y1="325.6" x2="125.23" y2="326.9" stroke="#444" stroke-width="0.8"/>
<line x1="150.17" y1="454.4" x2="150.17" y2="455.7" stroke="#333" stroke-width="0.8"/>
<line x1="150.17" y1="325.6" x2="150.17" y2="326.9" stroke="#444" stroke-width="0.8"/>
<line x1="175.11" y1="454.4" x2="175.11" y2="455.7" stroke="#333" stroke-width="0.8"/>
<line x1="175.11" y1="325.6" x2="175.11" y2="326.9" stroke="#444" stroke-width="0.8"/>
<line x1="200.06" y1="454.4" x2="200.06" y2="455.7" stroke="#333" stroke-width="0.8"/>
<line x1="200.06" y1="325.6" x2="200.06" y2="326.9" stroke="#444" stroke-width="0.8"/>
<line x1="48.1" y1="454.4" x2="50.4" y2="454.4" stroke="#a08060" stroke-width="0.7"/>
<text x="46.1" y="456.09" font-size="4.7" text-anchor="end" fill="#d6ba9a" font-family='"Liberation Sans", sans-serif' font-weight="normal" font-style="normal" stroke="#d6ba9a" stroke-width="0.08" stroke-linejoin="round">0.0</text>
<line x1="49.2" y1="447.96" x2="50.4" y2="447.96" stroke="#8a7a6a" stroke-width="0.6"/>
<line x1="49.2" y1="441.52" x2="50.4" y2="441.52" stroke="#8a7a6a" stroke-width="0.6"/>
<line x1="49.2" y1="435.08" x2="50.4" y2="435.08" stroke="#8a7a6a" stroke-width="0.6"/>
<line x1="49.2" y1="428.64" x2="50.4" y2="428.64" stroke="#8a7a6a" stroke-width="0.6"/>
<line x1="48.1" y1="422.2" x2="50.4" y2="422.2" stroke="#a08060" stroke-width="0.7"/>
<text x="46.1" y="423.89" font-size="4.7" text-anchor="end" fill="#d6ba9a" font-family='"Liberation Sans", sans-serif' font-weight="normal" font-style="normal" stroke="#d6ba9a" stroke-width="0.08" stroke-linejoin="round">0.5</text>
<line x1="49.2" y1="415.76" x2="50.4" y2="415.76" stroke="#8a7a6a" stroke-width="0.6"/>
<line x1="49.2" y1="409.32" x2="50.4" y2="409.32" stroke="#8a7a6a" stroke-width="0.6"/>
<line x1="49.2" y1="402.88" x2="50.4" y2="402.88" stroke="#8a7a6a" stroke-width="0.6"/>
<line x1="49.2" y1="396.44" x2="50.4" y2="396.44" stroke="#8a7a6a" stroke-width="0.6"/>
<line x1="48.1" y1="390" x2="50.4" y2="390" stroke="#a08060" stroke-width="0.7"/>
<text x="46.1" y="391.69" font-size="4.7" text-anchor="end" fill="#d6ba9a" font-family='"Liberation Sans", sans-serif' font-weight="normal" font-style="normal" stroke="#d6ba9a" stroke-width="0.08" stroke-linejoin="round">1.0</text>
<line x1="49.2" y1="383.56" x2="50.4" y2="383.56" stroke="#8a7a6a" stroke-width="0.6"/>
<line x1="49.2" y1="377.12" x2="50.4" y2="377.12" stroke="#8a7a6a" stroke-width="0.6"/>
<line x1="49.2" y1="370.68" x2="50.4" y2="370.68" stroke="#8a7a6a" stroke-width="0.6"/>
<line x1="49.2" y1="364.24" x2="50.4" y2="364.24" stroke="#8a7a6a" stroke-width="0.6"/>
<line x1="48.1" y1="357.8" x2="50.4" y2="357.8" stroke="#a08060" stroke-width="0.7"/>
<text x="46.1" y="359.49" font-size="4.7" text-anchor="end" fill="#d6ba9a" font-family='"Liberation Sans", sans-serif' font-weight="normal" font-style="normal" stroke="#d6ba9a" stroke-width="0.08" stroke-linejoin="round">1.5</text>
<line x1="49.2" y1="351.36" x2="50.4" y2="351.36" stroke="#8a7a6a" stroke-width="0.6"/>
<line x1="49.2" y1="344.92" x2="50.4" y2="344.92" stroke="#8a7a6a" stroke-width="0.6"/>
<line x1="49.2" y1="338.48" x2="50.4" y2="338.48" stroke="#8a7a6a" stroke-width="0.6"/>
<line x1="49.2" y1="332.04" x2="50.4" y2="332.04" stroke="#8a7a6a" stroke-width="0.6"/>
<line x1="48.1" y1="325.6" x2="50.4" y2="325.6" stroke="#a08060" stroke-width="0.7"/>
<text x="46.1" y="327.29" font-size="4.7" text-anchor="end" fill="#d6ba9a" font-family='"Liberation Sans", sans-serif' font-weight="normal" font-style="normal" stroke="#d6ba9a" stroke-width="0.08" stroke-linejoin="round">2.0</text>
<line x1="225" y1="454.4" x2="226.3" y2="454.4" stroke="#555" stroke-width="0.6"/>
<line x1="225" y1="447.62" x2="227.5" y2="447.62" stroke="#555" stroke-width="0.7"/>
<text x="229.2" y="449.31" font-size="4.7" text-anchor="start" fill="#888" font-family='"Liberation Sans", sans-serif' font-weight="normal" font-style="normal" stroke="#888" stroke-width="0.18" stroke-linejoin="round">4.0</text>
<line x1="225" y1="440.84" x2="226.3" y2="440.84" stroke="#555" stroke-width="0.6"/>
<line x1="225" y1="434.06" x2="227.5" y2="434.06" stroke="#555" stroke-width="0.7"/>
<text x="229.2" y="435.75" font-size="4.7" text-anchor="start" fill="#888" font-family='"Liberation Sans", sans-serif' font-weight="normal" font-style="normal" stroke="#888" stroke-width="0.18" stroke-linejoin="round">4.2</text>
<line x1="225" y1="427.28" x2="226.3" y2="427.28" stroke="#555" stroke-width="0.6"/>
<line x1="225" y1="420.5" x2="227.5" y2="420.5" stroke="#555" stroke-width="0.7"/>
<text x="229.2" y="422.2" font-size="4.7" text-anchor="start" fill="#888" font-family='"Liberation Sans", sans-serif' font-weight="normal" font-style="normal" stroke="#888" stroke-width="0.18" stroke-linejoin="round">4.4</text>
<line x1="225" y1="413.73" x2="226.3" y2="413.73" stroke="#555" stroke-width="0.6"/>
<line x1="225" y1="406.95" x2="227.5" y2="406.95" stroke="#555" stroke-width="0.7"/>
<text x="229.2" y="408.64" font-size="4.7" text-anchor="start" fill="#888" font-family='"Liberation Sans", sans-serif' font-weight="normal" font-style="normal" stroke="#888" stroke-width="0.18" stroke-linejoin="round">4.6</text>
<line x1="225" y1="400.17" x2="226.3" y2="400.17" stroke="#555" stroke-width="0.6"/>
<line x1="225" y1="393.39" x2="227.5" y2="393.39" stroke="#555" stroke-width="0.7"/>
<text x="229.2" y="395.08" font-size="4.7" text-anchor="start" fill="#888" font-family='"Liberation Sans", sans-serif' font-weight="normal" font-style="normal" stroke="#888" stroke-width="0.18" stroke-linejoin="round">4.8</text>
<line x1="225" y1="386.61" x2="226.3" y2="386.61" stroke="#555" stroke-width="0.6"/>
<line x1="225" y1="379.83" x2="227.5" y2="379.83" stroke="#555" stroke-width="0.7"/>
<text x="229.2" y="381.52" font-size="4.7" text-anchor="start" fill="#888" font-family='"Liberation Sans", sans-serif' font-weight="normal" font-style="normal" stroke="#888" stroke-width="0.18" stroke-linejoin="round">5.0</text>
<line x1="225" y1="373.05" x2="226.3" y2="373.05" stroke="#555" stroke-width="0.6"/>
<line x1="225" y1="366.27" x2="227.5" y2="366.27" stroke="#555" stroke-width="0.7"/>
<text x="229.2" y="367.96" font-size="4.7" text-anchor="start" fill="#888" font-family='"Liberation Sans", sans-serif' font-weight="normal" font-style="normal" stroke="#888" stroke-width="0.18" stroke-linejoin="round">5.2</text>
<line x1="225" y1="359.49" x2="226.3" y2="359.49" stroke="#555" stroke-width="0.6"/>
<line x1="225" y1="352.71" x2="227.5" y2="352.71" stroke="#555" stroke-width="0.7"/>
<text x="229.2" y="354.41" font-size="4.7" text-anchor="start" fill="#888" font-family='"Liberation Sans", sans-serif' font-weight="normal" font-style="normal" stroke="#888" stroke-width="0.18" stroke-linejoin="round">5.4</text>
<line x1="225" y1="345.94" x2="226.3" y2="345.94" stroke="#555" stroke-width="0.6"/>
<line x1="225" y1="339.16" x2="227.5" y2="339.16" stroke="#555" stroke-width="0.7"/>
<text x="229.2" y="340.85" font-size="4.7" text-anchor="start" fill="#888" font-family='"Liberation Sans", sans-serif' font-weight="normal" font-style="normal" stroke="#888" stroke-width="0.18" stroke-linejoin="round">5.6</text>
<line x1="225" y1="332.38" x2="226.3" y2="332.38" stroke="#555" stroke-width="0.6"/>
<line x1="225" y1="325.6" x2="227.5" y2="325.6" stroke="#555" stroke-width="0.7"/>
<text x="229.2" y="327.29" font-size="4.7" text-anchor="start" fill="#888" font-family='"Liberation Sans", sans-serif' font-weight="normal" font-style="normal" stroke="#888" stroke-width="0.18" stroke-linejoin="round">5.8</text>
<text x="35.4" y="389.8" font-size="6.2" text-anchor="middle" fill="#222" font-family='"Liberation Sans", sans-serif' font-weight="normal" font-style="normal" transform="rotate(-90 35.4 389.8)" stroke="#222" stroke-width="0.18" stroke-linejoin="round">OD600nm (Abs)</text>
<text x="243.5" y="389" font-size="6.2" text-anchor="middle" fill="#222" font-family='"Liberation Sans", sans-serif' font-weight="normal" font-style="normal" transform="rotate(-90 243.5 389)" stroke="#222" stroke-width="0.18" stroke-linejoin="round">pH</text>
<text x="137.9" y="472.2" font-size="6.4" text-anchor="middle" fill="#222" font-family='"Liberation Sans", sans-serif' font-weight="normal" font-style="normal" stroke="#222" stroke-width="0.18" stroke-linejoin="round">Time (hour)</text>
<text x="40.8" y="321" font-size="8.1" text-anchor="start" fill="#222" font-family='"Liberation Sans", sans-serif' font-weight="normal" font-style="normal" stroke="#222" stroke-width="0.18" stroke-linejoin="round">G2</text>
<rect x="267.79" y="451.18" width="20.2" height="3.22" fill="#fbc794" stroke="#a09488" stroke-width="0.6"/>
<rect x="292.78" y="450.54" width="20.2" height="3.86" fill="#fbc794" stroke="#a09488" stroke-width="0.6"/>
<rect x="317.76" y="450.54" width="20.2" height="3.86" fill="#fbc794" stroke="#a09488" stroke-width="0.6"/>
<rect x="342.75" y="444.74" width="20.2" height="9.66" fill="#fbc794" stroke="#a09488" stroke-width="0.6"/>
<rect x="367.74" y="357.8" width="20.2" height="96.6" fill="#fbc794" stroke="#a09488" stroke-width="0.6"/>
<rect x="392.72" y="353.94" width="20.2" height="100.46" fill="#fbc794" stroke="#a09488" stroke-width="0.6"/>
<rect x="417.71" y="350.07" width="20.2" height="104.33" fill="#fbc794" stroke="#a09488" stroke-width="0.6"/>
<line x1="302.88" y1="449.89" x2="302.88" y2="451.18" stroke="#8a7f77" stroke-width="0.6"/>
<line x1="301.38" y1="449.89" x2="304.38" y2="449.89" stroke="#8a7f77" stroke-width="0.6"/>
<line x1="301.38" y1="451.18" x2="304.38" y2="451.18" stroke="#8a7f77" stroke-width="0.6"/>
<line x1="327.86" y1="449.89" x2="327.86" y2="451.18" stroke="#8a7f77" stroke-width="0.6"/>
<line x1="326.36" y1="449.89" x2="329.36" y2="449.89" stroke="#8a7f77" stroke-width="0.6"/>
<line x1="326.36" y1="451.18" x2="329.36" y2="451.18" stroke="#8a7f77" stroke-width="0.6"/>
<line x1="352.85" y1="444.1" x2="352.85" y2="445.38" stroke="#8a7f77" stroke-width="0.6"/>
<line x1="351.35" y1="444.1" x2="354.35" y2="444.1" stroke="#8a7f77" stroke-width="0.6"/>
<line x1="351.35" y1="445.38" x2="354.35" y2="445.38" stroke="#8a7f77" stroke-width="0.6"/>
<line x1="377.84" y1="356.51" x2="377.84" y2="359.09" stroke="#8a7f77" stroke-width="0.6"/>
<line x1="376.34" y1="356.51" x2="379.34" y2="356.51" stroke="#8a7f77" stroke-width="0.6"/>
<line x1="376.34" y1="359.09" x2="379.34" y2="359.09" stroke="#8a7f77" stroke-width="0.6"/>
<line x1="427.81" y1="349.43" x2="427.81" y2="350.72" stroke="#8a7f77" stroke-width="0.6"/>
<line x1="426.31" y1="349.43" x2="429.31" y2="349.43" stroke="#8a7f77" stroke-width="0.6"/>
<line x1="426.31" y1="350.72" x2="429.31" y2="350.72" stroke="#8a7f77" stroke-width="0.6"/>
<line x1="302.88" y1="339.16" x2="302.88" y2="345.94" stroke="#555" stroke-width="0.6"/>
<line x1="301.38" y1="339.16" x2="304.38" y2="339.16" stroke="#555" stroke-width="0.6"/>
<line x1="301.38" y1="345.94" x2="304.38" y2="345.94" stroke="#555" stroke-width="0.6"/>
<line x1="352.85" y1="345.94" x2="352.85" y2="352.71" stroke="#555" stroke-width="0.6"/>
<line x1="351.35" y1="345.94" x2="354.35" y2="345.94" stroke="#555" stroke-width="0.6"/>
<line x1="351.35" y1="352.71" x2="354.35" y2="352.71" stroke="#555" stroke-width="0.6"/>
<line x1="377.84" y1="427.28" x2="377.84" y2="434.06" stroke="#555" stroke-width="0.6"/>
<line x1="376.34" y1="427.28" x2="379.34" y2="427.28" stroke="#555" stroke-width="0.6"/>
<line x1="376.34" y1="434.06" x2="379.34" y2="434.06" stroke="#555" stroke-width="0.6"/>
<polyline points="277.89,345.94 302.88,342.55 327.86,345.94 352.85,349.33 377.84,430.67 402.82,434.06 427.81,440.84" fill="none" stroke="#666" stroke-width="0.65" stroke-dasharray="0.8,1.6"/>
<rect x="276.59" y="344.64" width="2.6" height="2.6" fill="#3a3a3a" stroke="none" stroke-width="0"/>
<rect x="301.58" y="341.25" width="2.6" height="2.6" fill="#3a3a3a" stroke="none" stroke-width="0"/>
<rect x="326.56" y="344.64" width="2.6" height="2.6" fill="#3a3a3a" stroke="none" stroke-width="0"/>
<rect x="351.55" y="348.03" width="2.6" height="2.6" fill="#3a3a3a" stroke="none" stroke-width="0"/>
<rect x="376.54" y="429.37" width="2.6" height="2.6" fill="#3a3a3a" stroke="none" stroke-width="0"/>
<rect x="401.52" y="432.76" width="2.6" height="2.6" fill="#3a3a3a" stroke="none" stroke-width="0"/>
<rect x="426.51" y="439.54" width="2.6" height="2.6" fill="#3a3a3a" stroke="none" stroke-width="0"/>
<line x1="265.4" y1="325.6" x2="440.3" y2="325.6" stroke="#555" stroke-width="0.9"/>
<line x1="440.3" y1="325.6" x2="440.3" y2="454.4" stroke="#555" stroke-width="0.9"/>
<line x1="264.9" y1="454.4" x2="440.3" y2="454.4" stroke="#333" stroke-width="0.9"/>
<line x1="265.4" y1="325.6" x2="265.4" y2="454.4" stroke="#c8a27c" stroke-width="0.9"/>
<line x1="277.89" y1="454.4" x2="277.89" y2="456.4" stroke="#222" stroke-width="0.9"/>
<line x1="277.89" y1="325.6" x2="277.89" y2="327.8" stroke="#333" stroke-width="0.9"/>
<text x="277.89" y="462.59" font-size="4.7" text-anchor="middle" fill="#333" font-family='"Liberation Sans", sans-serif' font-weight="normal" font-style="normal" stroke="#333" stroke-width="0.18" stroke-linejoin="round">0</text>
<line x1="302.88" y1="454.4" x2="302.88" y2="456.4" stroke="#222" stroke-width="0.9"/>
<line x1="302.88" y1="325.6" x2="302.88" y2="327.8" stroke="#333" stroke-width="0.9"/>
<text x="302.88" y="462.59" font-size="4.7" text-anchor="middle" fill="#333" font-family='"Liberation Sans", sans-serif' font-weight="normal" font-style="normal" stroke="#333" stroke-width="0.18" stroke-linejoin="round">4</text>
<line x1="327.86" y1="454.4" x2="327.86" y2="456.4" stroke="#222" stroke-width="0.9"/>
<line x1="327.86" y1="325.6" x2="327.86" y2="327.8" stroke="#333" stroke-width="0.9"/>
<text x="327.86" y="462.59" font-size="4.7" text-anchor="middle" fill="#333" font-family='"Liberation Sans", sans-serif' font-weight="normal" font-style="normal" stroke="#333" stroke-width="0.18" stroke-linejoin="round">8</text>
<line x1="352.85" y1="454.4" x2="352.85" y2="456.4" stroke="#222" stroke-width="0.9"/>
<line x1="352.85" y1="325.6" x2="352.85" y2="327.8" stroke="#333" stroke-width="0.9"/>
<text x="352.85" y="462.59" font-size="4.7" text-anchor="middle" fill="#333" font-family='"Liberation Sans", sans-serif' font-weight="normal" font-style="normal" stroke="#333" stroke-width="0.18" stroke-linejoin="round">12</text>
<line x1="377.84" y1="454.4" x2="377.84" y2="456.4" stroke="#222" stroke-width="0.9"/>
<line x1="377.84" y1="325.6" x2="377.84" y2="327.8" stroke="#333" stroke-width="0.9"/>
<text x="377.84" y="462.59" font-size="4.7" text-anchor="middle" fill="#333" font-family='"Liberation Sans", sans-serif' font-weight="normal" font-style="normal" stroke="#333" stroke-width="0.18" stroke-linejoin="round">16</text>
<line x1="402.82" y1="454.4" x2="402.82" y2="456.4" stroke="#222" stroke-width="0.9"/>
<line x1="402.82" y1="325.6" x2="402.82" y2="327.8" stroke="#333" stroke-width="0.9"/>
<text x="402.82" y="462.59" font-size="4.7" text-anchor="middle" fill="#333" font-family='"Liberation Sans", sans-serif' font-weight="normal" font-style="normal" stroke="#333" stroke-width="0.18" stroke-linejoin="round">20</text>
<line x1="427.81" y1="454.4" x2="427.81" y2="456.4" stroke="#222" stroke-width="0.9"/>
<line x1="427.81" y1="325.6" x2="427.81" y2="327.8" stroke="#333" stroke-width="0.9"/>
<text x="427.81" y="462.59" font-size="4.7" text-anchor="middle" fill="#333" font-family='"Liberation Sans", sans-serif' font-weight="normal" font-style="normal" stroke="#333" stroke-width="0.18" stroke-linejoin="round">24</text>
<line x1="290.39" y1="454.4" x2="290.39" y2="455.7" stroke="#333" stroke-width="0.8"/>
<line x1="290.39" y1="325.6" x2="290.39" y2="326.9" stroke="#444" stroke-width="0.8"/>
<line x1="315.37" y1="454.4" x2="315.37" y2="455.7" stroke="#333" stroke-width="0.8"/>
<line x1="315.37" y1="325.6" x2="315.37" y2="326.9" stroke="#444" stroke-width="0.8"/>
<line x1="340.36" y1="454.4" x2="340.36" y2="455.7" stroke="#333" stroke-width="0.8"/>
<line x1="340.36" y1="325.6" x2="340.36" y2="326.9" stroke="#444" stroke-width="0.8"/>
<line x1="365.34" y1="454.4" x2="365.34" y2="455.7" stroke="#333" stroke-width="0.8"/>
<line x1="365.34" y1="325.6" x2="365.34" y2="326.9" stroke="#444" stroke-width="0.8"/>
<line x1="390.33" y1="454.4" x2="390.33" y2="455.7" stroke="#333" stroke-width="0.8"/>
<line x1="390.33" y1="325.6" x2="390.33" y2="326.9" stroke="#444" stroke-width="0.8"/>
<line x1="415.31" y1="454.4" x2="415.31" y2="455.7" stroke="#333" stroke-width="0.8"/>
<line x1="415.31" y1="325.6" x2="415.31" y2="326.9" stroke="#444" stroke-width="0.8"/>
<line x1="263.1" y1="454.4" x2="265.4" y2="454.4" stroke="#a08060" stroke-width="0.7"/>
<text x="261.1" y="456.09" font-size="4.7" text-anchor="end" fill="#d6ba9a" font-family='"Liberation Sans", sans-serif' font-weight="normal" font-style="normal" stroke="#d6ba9a" stroke-width="0.08" stroke-linejoin="round">0.0</text>
<line x1="264.2" y1="447.96" x2="265.4" y2="447.96" stroke="#8a7a6a" stroke-width="0.6"/>
<line x1="264.2" y1="441.52" x2="265.4" y2="441.52" stroke="#8a7a6a" stroke-width="0.6"/>
<line x1="264.2" y1="435.08" x2="265.4" y2="435.08" stroke="#8a7a6a" stroke-width="0.6"/>
<line x1="264.2" y1="428.64" x2="265.4" y2="428.64" stroke="#8a7a6a" stroke-width="0.6"/>
<line x1="263.1" y1="422.2" x2="265.4" y2="422.2" stroke="#a08060" stroke-width="0.7"/>
<text x="261.1" y="423.89" font-size="4.7" text-anchor="end" fill="#d6ba9a" font-family='"Liberation Sans", sans-serif' font-weight="normal" font-style="normal" stroke="#d6ba9a" stroke-width="0.08" stroke-linejoin="round">0.5</text>
<line x1="264.2" y1="415.76" x2="265.4" y2="415.76" stroke="#8a7a6a" stroke-width="0.6"/>
<line x1="264.2" y1="409.32" x2="265.4" y2="409.32" stroke="#8a7a6a" stroke-width="0.6"/>
<line x1="264.2" y1="402.88" x2="265.4" y2="402.88" stroke="#8a7a6a" stroke-width="0.6"/>
<line x1="264.2" y1="396.44" x2="265.4" y2="396.44" stroke="#8a7a6a" stroke-width="0.6"/>
<line x1="263.1" y1="390" x2="265.4" y2="390" stroke="#a08060" stroke-width="0.7"/>
<text x="261.1" y="391.69" font-size="4.7" text-anchor="end" fill="#d6ba9a" font-family='"Liberation Sans", sans-serif' font-weight="normal" font-style="normal" stroke="#d6ba9a" stroke-width="0.08" stroke-linejoin="round">1.0</text>
<line x1="264.2" y1="383.56" x2="265.4" y2="383.56" stroke="#8a7a6a" stroke-width="0.6"/>
<line x1="264.2" y1="377.12" x2="265.4" y2="377.12" stroke="#8a7a6a" stroke-width="0.6"/>
<line x1="264.2" y1="370.68" x2="265.4" y2="370.68" stroke="#8a7a6a" stroke-width="0.6"/>
<line x1="264.2" y1="364.24" x2="265.4" y2="364.24" stroke="#8a7a6a" stroke-width="0.6"/>
<line x1="263.1" y1="357.8" x2="265.4" y2="357.8" stroke="#a08060" stroke-width="0.7"/>
<text x="261.1" y="359.49" font-size="4.7" text-anchor="end" fill="#d6ba9a" font-family='"Liberation Sans", sans-serif' font-weight="normal" font-style="normal" stroke="#d6ba9a" stroke-width="0.08" stroke-linejoin="round">1.5</text>
<line x1="264.2" y1="351.36" x2="265.4" y2="351.36" stroke="#8a7a6a" stroke-width="0.6"/>
<line x1="264.2" y1="344.92" x2="265.4" y2="344.92" stroke="#8a7a6a" stroke-width="0.6"/>
<line x1="264.2" y1="338.48" x2="265.4" y2="338.48" stroke="#8a7a6a" stroke-width="0.6"/>
<line x1="264.2" y1="332.04" x2="265.4" y2="332.04" stroke="#8a7a6a" stroke-width="0.6"/>
<line x1="263.1" y1="325.6" x2="265.4" y2="325.6" stroke="#a08060" stroke-width="0.7"/>
<text x="261.1" y="327.29" font-size="4.7" text-anchor="end" fill="#d6ba9a" font-family='"Liberation Sans", sans-serif' font-weight="normal" font-style="normal" stroke="#d6ba9a" stroke-width="0.08" stroke-linejoin="round">2.0</text>
<line x1="440.3" y1="454.4" x2="441.6" y2="454.4" stroke="#555" stroke-width="0.6"/>
<line x1="440.3" y1="447.62" x2="442.8" y2="447.62" stroke="#555" stroke-width="0.7"/>
<text x="444.5" y="449.31" font-size="4.7" text-anchor="start" fill="#888" font-family='"Liberation Sans", sans-serif' font-weight="normal" font-style="normal" stroke="#888" stroke-width="0.18" stroke-linejoin="round">4.0</text>
<line x1="440.3" y1="440.84" x2="441.6" y2="440.84" stroke="#555" stroke-width="0.6"/>
<line x1="440.3" y1="434.06" x2="442.8" y2="434.06" stroke="#555" stroke-width="0.7"/>
<text x="444.5" y="435.75" font-size="4.7" text-anchor="start" fill="#888" font-family='"Liberation Sans", sans-serif' font-weight="normal" font-style="normal" stroke="#888" stroke-width="0.18" stroke-linejoin="round">4.2</text>
<line x1="440.3" y1="427.28" x2="441.6" y2="427.28" stroke="#555" stroke-width="0.6"/>
<line x1="440.3" y1="420.5" x2="442.8" y2="420.5" stroke="#555" stroke-width="0.7"/>
<text x="444.5" y="422.2" font-size="4.7" text-anchor="start" fill="#888" font-family='"Liberation Sans", sans-serif' font-weight="normal" font-style="normal" stroke="#888" stroke-width="0.18" stroke-linejoin="round">4.4</text>
<line x1="440.3" y1="413.73" x2="441.6" y2="413.73" stroke="#555" stroke-width="0.6"/>
<line x1="440.3" y1="406.95" x2="442.8" y2="406.95" stroke="#555" stroke-width="0.7"/>
<text x="444.5" y="408.64" font-size="4.7" text-anchor="start" fill="#888" font-family='"Liberation Sans", sans-serif' font-weight="normal" font-style="normal" stroke="#888" stroke-width="0.18" stroke-linejoin="round">4.6</text>
<line x1="440.3" y1="400.17" x2="441.6" y2="400.17" stroke="#555" stroke-width="0.6"/>
<line x1="440.3" y1="393.39" x2="442.8" y2="393.39" stroke="#555" stroke-width="0.7"/>
<text x="444.5" y="395.08" font-size="4.7" text-anchor="start" fill="#888" font-family='"Liberation Sans", sans-serif' font-weight="normal" font-style="normal" stroke="#888" stroke-width="0.18" stroke-linejoin="round">4.8</text>
<line x1="440.3" y1="386.61" x2="441.6" y2="386.61" stroke="#555" stroke-width="0.6"/>
<line x1="440.3" y1="379.83" x2="442.8" y2="379.83" stroke="#555" stroke-width="0.7"/>
<text x="444.5" y="381.52" font-size="4.7" text-anchor="start" fill="#888" font-family='"Liberation Sans", sans-serif' font-weight="normal" font-style="normal" stroke="#888" stroke-width="0.18" stroke-linejoin="round">5.0</text>
<line x1="440.3" y1="373.05" x2="441.6" y2="373.05" stroke="#555" stroke-width="0.6"/>
<line x1="440.3" y1="366.27" x2="442.8" y2="366.27" stroke="#555" stroke-width="0.7"/>
<text x="444.5" y="367.96" font-size="4.7" text-anchor="start" fill="#888" font-family='"Liberation Sans", sans-serif' font-weight="normal" font-style="normal" stroke="#888" stroke-width="0.18" stroke-linejoin="round">5.2</text>
<line x1="440.3" y1="359.49" x2="441.6" y2="359.49" stroke="#555" stroke-width="0.6"/>
<line x1="440.3" y1="352.71" x2="442.8" y2="352.71" stroke="#555" stroke-width="0.7"/>
<text x="444.5" y="354.41" font-size="4.7" text-anchor="start" fill="#888" font-family='"Liberation Sans", sans-serif' font-weight="normal" font-style="normal" stroke="#888" stroke-width="0.18" stroke-linejoin="round">5.4</text>
<line x1="440.3" y1="345.94" x2="441.6" y2="345.94" stroke="#555" stroke-width="0.6"/>
<line x1="440.3" y1="339.16" x2="442.8" y2="339.16" stroke="#555" stroke-width="0.7"/>
<text x="444.5" y="340.85" font-size="4.7" text-anchor="start" fill="#888" font-family='"Liberation Sans", sans-serif' font-weight="normal" font-style="normal" stroke="#888" stroke-width="0.18" stroke-linejoin="round">5.6</text>
<line x1="440.3" y1="332.38" x2="441.6" y2="332.38" stroke="#555" stroke-width="0.6"/>
<line x1="440.3" y1="325.6" x2="442.8" y2="325.6" stroke="#555" stroke-width="0.7"/>
<text x="444.5" y="327.29" font-size="4.7" text-anchor="start" fill="#888" font-family='"Liberation Sans", sans-serif' font-weight="normal" font-style="normal" stroke="#888" stroke-width="0.18" stroke-linejoin="round">5.8</text>
<text x="250.4" y="389.8" font-size="6.2" text-anchor="middle" fill="#222" font-family='"Liberation Sans", sans-serif' font-weight="normal" font-style="normal" transform="rotate(-90 250.4 389.8)" stroke="#222" stroke-width="0.18" stroke-linejoin="round">OD600nm (Abs)</text>
<text x="458.8" y="389" font-size="6.2" text-anchor="middle" fill="#222" font-family='"Liberation Sans", sans-serif' font-weight="normal" font-style="normal" transform="rotate(-90 458.8 389)" stroke="#222" stroke-width="0.18" stroke-linejoin="round">pH</text>
<text x="352.9" y="472.2" font-size="6.4" text-anchor="middle" fill="#222" font-family='"Liberation Sans", sans-serif' font-weight="normal" font-style="normal" stroke="#222" stroke-width="0.18" stroke-linejoin="round">Time (hour)</text>
<text x="255.8" y="321" font-size="8.1" text-anchor="start" fill="#222" font-family='"Liberation Sans", sans-serif' font-weight="normal" font-style="normal" stroke="#222" stroke-width="0.18" stroke-linejoin="round">G3</text>
<rect x="482.81" y="451.18" width="20.2" height="3.22" fill="#fbc794" stroke="#a09488" stroke-width="0.6"/>
<rect x="507.82" y="451.18" width="20.2" height="3.22" fill="#fbc794" stroke="#a09488" stroke-width="0.6"/>
<rect x="532.84" y="450.21" width="20.2" height="4.19" fill="#fbc794" stroke="#a09488" stroke-width="0.6"/>
<rect x="557.85" y="442.81" width="20.2" height="11.59" fill="#fbc794" stroke="#a09488" stroke-width="0.6"/>
<rect x="582.86" y="355.22" width="20.2" height="99.18" fill="#fbc794" stroke="#a09488" stroke-width="0.6"/>
<rect x="607.88" y="349.43" width="20.2" height="104.97" fill="#fbc794" stroke="#a09488" stroke-width="0.6"/>
<rect x="632.89" y="348.14" width="20.2" height="106.26" fill="#fbc794" stroke="#a09488" stroke-width="0.6"/>
<line x1="492.91" y1="450.54" x2="492.91" y2="451.82" stroke="#8a7f77" stroke-width="0.6"/>
<line x1="491.41" y1="450.54" x2="494.41" y2="450.54" stroke="#8a7f77" stroke-width="0.6"/>
<line x1="491.41" y1="451.82" x2="494.41" y2="451.82" stroke="#8a7f77" stroke-width="0.6"/>
<line x1="542.94" y1="449.57" x2="542.94" y2="450.86" stroke="#8a7f77" stroke-width="0.6"/>
<line x1="541.44" y1="449.57" x2="544.44" y2="449.57" stroke="#8a7f77" stroke-width="0.6"/>
<line x1="541.44" y1="450.86" x2="544.44" y2="450.86" stroke="#8a7f77" stroke-width="0.6"/>
<line x1="592.96" y1="352.52" x2="592.96" y2="357.93" stroke="#8a7f77" stroke-width="0.6"/>
<line x1="591.46" y1="352.52" x2="594.46" y2="352.52" stroke="#8a7f77" stroke-width="0.6"/>
<line x1="591.46" y1="357.93" x2="594.46" y2="357.93" stroke="#8a7f77" stroke-width="0.6"/>
<line x1="617.98" y1="347.75" x2="617.98" y2="351.1" stroke="#8a7f77" stroke-width="0.6"/>
<line x1="616.48" y1="347.75" x2="619.48" y2="347.75" stroke="#8a7f77" stroke-width="0.6"/>
<line x1="616.48" y1="351.1" x2="619.48" y2="351.1" stroke="#8a7f77" stroke-width="0.6"/>
<line x1="642.99" y1="346.21" x2="642.99" y2="350.07" stroke="#8a7f77" stroke-width="0.6"/>
<line x1="641.49" y1="346.21" x2="644.49" y2="346.21" stroke="#8a7f77" stroke-width="0.6"/>
<line x1="641.49" y1="350.07" x2="644.49" y2="350.07" stroke="#8a7f77" stroke-width="0.6"/>
<line x1="492.91" y1="332.38" x2="492.91" y2="339.16" stroke="#555" stroke-width="0.6"/>
<line x1="491.41" y1="332.38" x2="494.41" y2="332.38" stroke="#555" stroke-width="0.6"/>
<line x1="491.41" y1="339.16" x2="494.41" y2="339.16" stroke="#555" stroke-width="0.6"/>
<line x1="517.92" y1="339.16" x2="517.92" y2="345.94" stroke="#555" stroke-width="0.6"/>
<line x1="516.42" y1="339.16" x2="519.42" y2="339.16" stroke="#555" stroke-width="0.6"/>
<line x1="516.42" y1="345.94" x2="519.42" y2="345.94" stroke="#555" stroke-width="0.6"/>
<line x1="617.98" y1="427.28" x2="617.98" y2="434.06" stroke="#555" stroke-width="0.6"/>
<line x1="616.48" y1="427.28" x2="619.48" y2="427.28" stroke="#555" stroke-width="0.6"/>
<line x1="616.48" y1="434.06" x2="619.48" y2="434.06" stroke="#555" stroke-width="0.6"/>
<polyline points="492.91,335.77 517.92,342.55 542.94,345.94 567.95,345.94 592.96,427.28 617.98,430.67 642.99,440.84" fill="none" stroke="#666" stroke-width="0.65" stroke-dasharray="0.8,1.6"/>
<rect x="491.61" y="334.47" width="2.6" height="2.6" fill="#3a3a3a" stroke="none" stroke-width="0"/>
<rect x="516.62" y="341.25" width="2.6" height="2.6" fill="#3a3a3a" stroke="none" stroke-width="0"/>
<rect x="541.64" y="344.64" width="2.6" height="2.6" fill="#3a3a3a" stroke="none" stroke-width="0"/>
<rect x="566.65" y="344.64" width="2.6" height="2.6" fill="#3a3a3a" stroke="none" stroke-width="0"/>
<rect x="591.66" y="425.98" width="2.6" height="2.6" fill="#3a3a3a" stroke="none" stroke-width="0"/>
<rect x="616.68" y="429.37" width="2.6" height="2.6" fill="#3a3a3a" stroke="none" stroke-width="0"/>
<rect x="641.69" y="439.54" width="2.6" height="2.6" fill="#3a3a3a" stroke="none" stroke-width="0"/>
<line x1="480.4" y1="325.6" x2="655.5" y2="325.6" stroke="#555" stroke-width="0.9"/>
<line x1="655.5" y1="325.6" x2="655.5" y2="454.4" stroke="#555" stroke-width="0.9"/>
<line x1="479.9" y1="454.4" x2="655.5" y2="454.4" stroke="#333" stroke-width="0.9"/>
<line x1="480.4" y1="325.6" x2="480.4" y2="454.4" stroke="#c8a27c" stroke-width="0.9"/>
<line x1="492.91" y1="454.4" x2="492.91" y2="456.4" stroke="#222" stroke-width="0.9"/>
<line x1="492.91" y1="325.6" x2="492.91" y2="327.8" stroke="#333" stroke-width="0.9"/>
<text x="492.91" y="462.59" font-size="4.7" text-anchor="middle" fill="#333" font-family='"Liberation Sans", sans-serif' font-weight="normal" font-style="normal" stroke="#333" stroke-width="0.18" stroke-linejoin="round">0</text>
<line x1="517.92" y1="454.4" x2="517.92" y2="456.4" stroke="#222" stroke-width="0.9"/>
<line x1="517.92" y1="325.6" x2="517.92" y2="327.8" stroke="#333" stroke-width="0.9"/>
<text x="517.92" y="462.59" font-size="4.7" text-anchor="middle" fill="#333" font-family='"Liberation Sans", sans-serif' font-weight="normal" font-style="normal" stroke="#333" stroke-width="0.18" stroke-linejoin="round">4</text>
<line x1="542.94" y1="454.4" x2="542.94" y2="456.4" stroke="#222" stroke-width="0.9"/>
<line x1="542.94" y1="325.6" x2="542.94" y2="327.8" stroke="#333" stroke-width="0.9"/>
<text x="542.94" y="462.59" font-size="4.7" text-anchor="middle" fill="#333" font-family='"Liberation Sans", sans-serif' font-weight="normal" font-style="normal" stroke="#333" stroke-width="0.18" stroke-linejoin="round">8</text>
<line x1="567.95" y1="454.4" x2="567.95" y2="456.4" stroke="#222" stroke-width="0.9"/>
<line x1="567.95" y1="325.6" x2="567.95" y2="327.8" stroke="#333" stroke-width="0.9"/>
<text x="567.95" y="462.59" font-size="4.7" text-anchor="middle" fill="#333" font-family='"Liberation Sans", sans-serif' font-weight="normal" font-style="normal" stroke="#333" stroke-width="0.18" stroke-linejoin="round">12</text>
<line x1="592.96" y1="454.4" x2="592.96" y2="456.4" stroke="#222" stroke-width="0.9"/>
<line x1="592.96" y1="325.6" x2="592.96" y2="327.8" stroke="#333" stroke-width="0.9"/>
<text x="592.96" y="462.59" font-size="4.7" text-anchor="middle" fill="#333" font-family='"Liberation Sans", sans-serif' font-weight="normal" font-style="normal" stroke="#333" stroke-width="0.18" stroke-linejoin="round">16</text>
<line x1="617.98" y1="454.4" x2="617.98" y2="456.4" stroke="#222" stroke-width="0.9"/>
<line x1="617.98" y1="325.6" x2="617.98" y2="327.8" stroke="#333" stroke-width="0.9"/>
<text x="617.98" y="462.59" font-size="4.7" text-anchor="middle" fill="#333" font-family='"Liberation Sans", sans-serif' font-weight="normal" font-style="normal" stroke="#333" stroke-width="0.18" stroke-linejoin="round">20</text>
<line x1="642.99" y1="454.4" x2="642.99" y2="456.4" stroke="#222" stroke-width="0.9"/>
<line x1="642.99" y1="325.6" x2="642.99" y2="327.8" stroke="#333" stroke-width="0.9"/>
<text x="642.99" y="462.59" font-size="4.7" text-anchor="middle" fill="#333" font-family='"Liberation Sans", sans-serif' font-weight="normal" font-style="normal" stroke="#333" stroke-width="0.18" stroke-linejoin="round">24</text>
<line x1="505.41" y1="454.4" x2="505.41" y2="455.7" stroke="#333" stroke-width="0.8"/>
<line x1="505.41" y1="325.6" x2="505.41" y2="326.9" stroke="#444" stroke-width="0.8"/>
<line x1="530.43" y1="454.4" x2="530.43" y2="455.7" stroke="#333" stroke-width="0.8"/>
<line x1="530.43" y1="325.6" x2="530.43" y2="326.9" stroke="#444" stroke-width="0.8"/>
<line x1="555.44" y1="454.4" x2="555.44" y2="455.7" stroke="#333" stroke-width="0.8"/>
<line x1="555.44" y1="325.6" x2="555.44" y2="326.9" stroke="#444" stroke-width="0.8"/>
<line x1="580.46" y1="454.4" x2="580.46" y2="455.7" stroke="#333" stroke-width="0.8"/>
<line x1="580.46" y1="325.6" x2="580.46" y2="326.9" stroke="#444" stroke-width="0.8"/>
<line x1="605.47" y1="454.4" x2="605.47" y2="455.7" stroke="#333" stroke-width="0.8"/>
<line x1="605.47" y1="325.6" x2="605.47" y2="326.9" stroke="#444" stroke-width="0.8"/>
<line x1="630.49" y1="454.4" x2="630.49" y2="455.7" stroke="#333" stroke-width="0.8"/>
<line x1="630.49" y1="325.6" x2="630.49" y2="326.9" stroke="#444" stroke-width="0.8"/>
<line x1="478.1" y1="454.4" x2="480.4" y2="454.4" stroke="#a08060" stroke-width="0.7"/>
<text x="476.1" y="456.09" font-size="4.7" text-anchor="end" fill="#d6ba9a" font-family='"Liberation Sans", sans-serif' font-weight="normal" font-style="normal" stroke="#d6ba9a" stroke-width="0.08" stroke-linejoin="round">0.0</text>
<line x1="479.2" y1="447.96" x2="480.4" y2="447.96" stroke="#8a7a6a" stroke-width="0.6"/>
<line x1="479.2" y1="441.52" x2="480.4" y2="441.52" stroke="#8a7a6a" stroke-width="0.6"/>
<line x1="479.2" y1="435.08" x2="480.4" y2="435.08" stroke="#8a7a6a" stroke-width="0.6"/>
<line x1="479.2" y1="428.64" x2="480.4" y2="428.64" stroke="#8a7a6a" stroke-width="0.6"/>
<line x1="478.1" y1="422.2" x2="480.4" y2="422.2" stroke="#a08060" stroke-width="0.7"/>
<text x="476.1" y="423.89" font-size="4.7" text-anchor="end" fill="#d6ba9a" font-family='"Liberation Sans", sans-serif' font-weight="normal" font-style="normal" stroke="#d6ba9a" stroke-width="0.08" stroke-linejoin="round">0.5</text>
<line x1="479.2" y1="415.76" x2="480.4" y2="415.76" stroke="#8a7a6a" stroke-width="0.6"/>
<line x1="479.2" y1="409.32" x2="480.4" y2="409.32" stroke="#8a7a6a" stroke-width="0.6"/>
<line x1="479.2" y1="402.88" x2="480.4" y2="402.88" stroke="#8a7a6a" stroke-width="0.6"/>
<line x1="479.2" y1="396.44" x2="480.4" y2="396.44" stroke="#8a7a6a" stroke-width="0.6"/>
<line x1="478.1" y1="390" x2="480.4" y2="390" stroke="#a08060" stroke-width="0.7"/>
<text x="476.1" y="391.69" font-size="4.7" text-anchor="end" fill="#d6ba9a" font-family='"Liberation Sans", sans-serif' font-weight="normal" font-style="normal" stroke="#d6ba9a" stroke-width="0.08" stroke-linejoin="round">1.0</text>
<line x1="479.2" y1="383.56" x2="480.4" y2="383.56" stroke="#8a7a6a" stroke-width="0.6"/>
<line x1="479.2" y1="377.12" x2="480.4" y2="377.12" stroke="#8a7a6a" stroke-width="0.6"/>
<line x1="479.2" y1="370.68" x2="480.4" y2="370.68" stroke="#8a7a6a" stroke-width="0.6"/>
<line x1="479.2" y1="364.24" x2="480.4" y2="364.24" stroke="#8a7a6a" stroke-width="0.6"/>
<line x1="478.1" y1="357.8" x2="480.4" y2="357.8" stroke="#a08060" stroke-width="0.7"/>
<text x="476.1" y="359.49" font-size="4.7" text-anchor="end" fill="#d6ba9a" font-family='"Liberation Sans", sans-serif' font-weight="normal" font-style="normal" stroke="#d6ba9a" stroke-width="0.08" stroke-linejoin="round">1.5</text>
<line x1="479.2" y1="351.36" x2="480.4" y2="351.36" stroke="#8a7a6a" stroke-width="0.6"/>
<line x1="479.2" y1="344.92" x2="480.4" y2="344.92" stroke="#8a7a6a" stroke-width="0.6"/>
<line x1="479.2" y1="338.48" x2="480.4" y2="338.48" stroke="#8a7a6a" stroke-width="0.6"/>
<line x1="479.2" y1="332.04" x2="480.4" y2="332.04" stroke="#8a7a6a" stroke-width="0.6"/>
<line x1="478.1" y1="325.6" x2="480.4" y2="325.6" stroke="#a08060" stroke-width="0.7"/>
<text x="476.1" y="327.29" font-size="4.7" text-anchor="end" fill="#d6ba9a" font-family='"Liberation Sans", sans-serif' font-weight="normal" font-style="normal" stroke="#d6ba9a" stroke-width="0.08" stroke-linejoin="round">2.0</text>
<line x1="655.5" y1="454.4" x2="656.8" y2="454.4" stroke="#555" stroke-width="0.6"/>
<line x1="655.5" y1="447.62" x2="658" y2="447.62" stroke="#555" stroke-width="0.7"/>
<text x="659.7" y="449.31" font-size="4.7" text-anchor="start" fill="#888" font-family='"Liberation Sans", sans-serif' font-weight="normal" font-style="normal" stroke="#888" stroke-width="0.18" stroke-linejoin="round">4.0</text>
<line x1="655.5" y1="440.84" x2="656.8" y2="440.84" stroke="#555" stroke-width="0.6"/>
<line x1="655.5" y1="434.06" x2="658" y2="434.06" stroke="#555" stroke-width="0.7"/>
<text x="659.7" y="435.75" font-size="4.7" text-anchor="start" fill="#888" font-family='"Liberation Sans", sans-serif' font-weight="normal" font-style="normal" stroke="#888" stroke-width="0.18" stroke-linejoin="round">4.2</text>
<line x1="655.5" y1="427.28" x2="656.8" y2="427.28" stroke="#555" stroke-width="0.6"/>
<line x1="655.5" y1="420.5" x2="658" y2="420.5" stroke="#555" stroke-width="0.7"/>
<text x="659.7" y="422.2" font-size="4.7" text-anchor="start" fill="#888" font-family='"Liberation Sans", sans-serif' font-weight="normal" font-style="normal" stroke="#888" stroke-width="0.18" stroke-linejoin="round">4.4</text>
<line x1="655.5" y1="413.73" x2="656.8" y2="413.73" stroke="#555" stroke-width="0.6"/>
<line x1="655.5" y1="406.95" x2="658" y2="406.95" stroke="#555" stroke-width="0.7"/>
<text x="659.7" y="408.64" font-size="4.7" text-anchor="start" fill="#888" font-family='"Liberation Sans", sans-serif' font-weight="normal" font-style="normal" stroke="#888" stroke-width="0.18" stroke-linejoin="round">4.6</text>
<line x1="655.5" y1="400.17" x2="656.8" y2="400.17" stroke="#555" stroke-width="0.6"/>
<line x1="655.5" y1="393.39" x2="658" y2="393.39" stroke="#555" stroke-width="0.7"/>
<text x="659.7" y="395.08" font-size="4.7" text-anchor="start" fill="#888" font-family='"Liberation Sans", sans-serif' font-weight="normal" font-style="normal" stroke="#888" stroke-width="0.18" stroke-linejoin="round">4.8</text>
<line x1="655.5" y1="386.61" x2="656.8" y2="386.61" stroke="#555" stroke-width="0.6"/>
<line x1="655.5" y1="379.83" x2="658" y2="379.83" stroke="#555" stroke-width="0.7"/>
<text x="659.7" y="381.52" font-size="4.7" text-anchor="start" fill="#888" font-family='"Liberation Sans", sans-serif' font-weight="normal" font-style="normal" stroke="#888" stroke-width="0.18" stroke-linejoin="round">5.0</text>
<line x1="655.5" y1="373.05" x2="656.8" y2="373.05" stroke="#555" stroke-width="0.6"/>
<line x1="655.5" y1="366.27" x2="658" y2="366.27" stroke="#555" stroke-width="0.7"/>
<text x="659.7" y="367.96" font-size="4.7" text-anchor="start" fill="#888" font-family='"Liberation Sans", sans-serif' font-weight="normal" font-style="normal" stroke="#888" stroke-width="0.18" stroke-linejoin="round">5.2</text>
<line x1="655.5" y1="359.49" x2="656.8" y2="359.49" stroke="#555" stroke-width="0.6"/>
<line x1="655.5" y1="352.71" x2="658" y2="352.71" stroke="#555" stroke-width="0.7"/>
<text x="659.7" y="354.41" font-size="4.7" text-anchor="start" fill="#888" font-family='"Liberation Sans", sans-serif' font-weight="normal" font-style="normal" stroke="#888" stroke-width="0.18" stroke-linejoin="round">5.4</text>
<line x1="655.5" y1="345.94" x2="656.8" y2="345.94" stroke="#555" stroke-width="0.6"/>
<line x1="655.5" y1="339.16" x2="658" y2="339.16" stroke="#555" stroke-width="0.7"/>
<text x="659.7" y="340.85" font-size="4.7" text-anchor="start" fill="#888" font-family='"Liberation Sans", sans-serif' font-weight="normal" font-style="normal" stroke="#888" stroke-width="0.18" stroke-linejoin="round">5.6</text>
<line x1="655.5" y1="332.38" x2="656.8" y2="332.38" stroke="#555" stroke-width="0.6"/>
<line x1="655.5" y1="325.6" x2="658" y2="325.6" stroke="#555" stroke-width="0.7"/>
<text x="659.7" y="327.29" font-size="4.7" text-anchor="start" fill="#888" font-family='"Liberation Sans", sans-serif' font-weight="normal" font-style="normal" stroke="#888" stroke-width="0.18" stroke-linejoin="round">5.8</text>
<text x="465.4" y="389.8" font-size="6.2" text-anchor="middle" fill="#222" font-family='"Liberation Sans", sans-serif' font-weight="normal" font-style="normal" transform="rotate(-90 465.4 389.8)" stroke="#222" stroke-width="0.18" stroke-linejoin="round">OD600nm (Abs)</text>
<text x="674" y="389" font-size="6.2" text-anchor="middle" fill="#222" font-family='"Liberation Sans", sans-serif' font-weight="normal" font-style="normal" transform="rotate(-90 674 389)" stroke="#222" stroke-width="0.18" stroke-linejoin="round">pH</text>
<text x="567.9" y="472.2" font-size="6.4" text-anchor="middle" fill="#222" font-family='"Liberation Sans", sans-serif' font-weight="normal" font-style="normal" stroke="#222" stroke-width="0.18" stroke-linejoin="round">Time (hour)</text>
<text x="470.8" y="321" font-size="8.1" text-anchor="start" fill="#222" font-family='"Liberation Sans", sans-serif' font-weight="normal" font-style="normal" stroke="#222" stroke-width="0.18" stroke-linejoin="round">G6</text>
<rect x="320.1" y="307.3" width="28.7" height="11" fill="#fff" stroke="#8a8a8a" stroke-width="0.6"/>
<rect x="320.9" y="308.5" width="8.4" height="3.3" fill="#fbc794" stroke="none" stroke-width="0"/>
<text x="331" y="311.7" font-size="3.9" text-anchor="start" fill="#333" font-family='"Liberation Sans", sans-serif' font-weight="normal" font-style="normal" stroke="#333" stroke-width="0.18" stroke-linejoin="round">OD600nm</text>
<line x1="320.9" y1="315.4" x2="329.3" y2="315.4" stroke="#555" stroke-width="0.5" stroke-dasharray="0.8,1"/>
<rect x="323.6" y="314.1" width="2.6" height="2.6" fill="#333" stroke="none" stroke-width="0"/>
<text x="331.3" y="316.8" font-size="3.9" text-anchor="start" fill="#333" font-family='"Liberation Sans", sans-serif' font-weight="normal" font-style="normal" stroke="#333" stroke-width="0.18" stroke-linejoin="round">pH</text>
<text x="330.6" y="507.2" font-size="17" text-anchor="middle" fill="#111" font-family='"Liberation Serif", serif' font-weight="normal" font-style="normal" stroke="#111" stroke-width="0.05" stroke-linejoin="round">(C)</text>
<line x1="52.2" y1="545.1" x2="52.2" y2="558.82" stroke="#4a4a4a" stroke-width="0.8"/>
<line x1="52.2" y1="545.1" x2="54.6" y2="545.1" stroke="#4a4a4a" stroke-width="0.8"/>
<line x1="52.2" y1="558.82" x2="54.6" y2="558.82" stroke="#4a4a4a" stroke-width="0.8"/>
<line x1="49.4" y1="551.96" x2="49.4" y2="572.54" stroke="#4a4a4a" stroke-width="0.8"/>
<line x1="49.4" y1="551.96" x2="52.2" y2="551.96" stroke="#4a4a4a" stroke-width="0.8"/>
<line x1="49.4" y1="572.54" x2="54.6" y2="572.54" stroke="#4a4a4a" stroke-width="0.8"/>
<line x1="46.7" y1="562.25" x2="46.7" y2="586.26" stroke="#4a4a4a" stroke-width="0.8"/>
<line x1="46.7" y1="562.25" x2="49.4" y2="562.25" stroke="#4a4a4a" stroke-width="0.8"/>
<line x1="46.7" y1="586.26" x2="54.6" y2="586.26" stroke="#4a4a4a" stroke-width="0.8"/>
<line x1="52.2" y1="613.7" x2="52.2" y2="627.42" stroke="#4a4a4a" stroke-width="0.8"/>
<line x1="52.2" y1="613.7" x2="54.6" y2="613.7" stroke="#4a4a4a" stroke-width="0.8"/>
<line x1="52.2" y1="627.42" x2="54.6" y2="627.42" stroke="#4a4a4a" stroke-width="0.8"/>
<line x1="49.4" y1="599.98" x2="49.4" y2="620.56" stroke="#4a4a4a" stroke-width="0.8"/>
<line x1="49.4" y1="599.98" x2="54.6" y2="599.98" stroke="#4a4a4a" stroke-width="0.8"/>
<line x1="49.4" y1="620.56" x2="52.2" y2="620.56" stroke="#4a4a4a" stroke-width="0.8"/>
<line x1="44.7" y1="574.25" x2="44.7" y2="610.27" stroke="#4a4a4a" stroke-width="0.8"/>
<line x1="44.7" y1="574.25" x2="46.7" y2="574.25" stroke="#4a4a4a" stroke-width="0.8"/>
<line x1="44.7" y1="610.27" x2="49.4" y2="610.27" stroke="#4a4a4a" stroke-width="0.8"/>
<line x1="42.1" y1="592.26" x2="42.1" y2="641.14" stroke="#4a4a4a" stroke-width="0.8"/>
<line x1="42.1" y1="592.26" x2="44.7" y2="592.26" stroke="#4a4a4a" stroke-width="0.8"/>
<line x1="42.1" y1="641.14" x2="54.6" y2="641.14" stroke="#4a4a4a" stroke-width="0.8"/>
<line x1="39.4" y1="616.7" x2="39.4" y2="654.86" stroke="#4a4a4a" stroke-width="0.8"/>
<line x1="39.4" y1="616.7" x2="42.1" y2="616.7" stroke="#4a4a4a" stroke-width="0.8"/>
<line x1="39.4" y1="654.86" x2="54.6" y2="654.86" stroke="#4a4a4a" stroke-width="0.8"/>
<line x1="36.9" y1="635.78" x2="36.9" y2="668.58" stroke="#4a4a4a" stroke-width="0.8"/>
<line x1="36.9" y1="635.78" x2="39.4" y2="635.78" stroke="#4a4a4a" stroke-width="0.8"/>
<line x1="36.9" y1="668.58" x2="54.6" y2="668.58" stroke="#4a4a4a" stroke-width="0.8"/>
<line x1="34.4" y1="652.18" x2="34.4" y2="682.3" stroke="#4a4a4a" stroke-width="0.8"/>
<line x1="34.4" y1="652.18" x2="36.9" y2="652.18" stroke="#4a4a4a" stroke-width="0.8"/>
<line x1="34.4" y1="682.3" x2="54.6" y2="682.3" stroke="#4a4a4a" stroke-width="0.8"/>
<line x1="31.8" y1="667.24" x2="31.8" y2="696.02" stroke="#4a4a4a" stroke-width="0.8"/>
<line x1="31.8" y1="667.24" x2="34.4" y2="667.24" stroke="#4a4a4a" stroke-width="0.8"/>
<line x1="31.8" y1="696.02" x2="54.6" y2="696.02" stroke="#4a4a4a" stroke-width="0.8"/>
<line x1="29.2" y1="681.63" x2="29.2" y2="709.74" stroke="#4a4a4a" stroke-width="0.8"/>
<line x1="29.2" y1="681.63" x2="31.8" y2="681.63" stroke="#4a4a4a" stroke-width="0.8"/>
<line x1="29.2" y1="709.74" x2="54.6" y2="709.74" stroke="#4a4a4a" stroke-width="0.8"/>
<line x1="26.6" y1="695.69" x2="26.6" y2="723.46" stroke="#4a4a4a" stroke-width="0.8"/>
<line x1="26.6" y1="695.69" x2="29.2" y2="695.69" stroke="#4a4a4a" stroke-width="0.8"/>
<line x1="26.6" y1="723.46" x2="54.6" y2="723.46" stroke="#4a4a4a" stroke-width="0.8"/>
<line x1="24.2" y1="709.57" x2="24.2" y2="737.18" stroke="#4a4a4a" stroke-width="0.8"/>
<line x1="24.2" y1="709.57" x2="26.6" y2="709.57" stroke="#4a4a4a" stroke-width="0.8"/>
<line x1="24.2" y1="737.18" x2="54.6" y2="737.18" stroke="#4a4a4a" stroke-width="0.8"/>
<line x1="21.7" y1="723.38" x2="21.7" y2="750.9" stroke="#4a4a4a" stroke-width="0.8"/>
<line x1="21.7" y1="723.38" x2="24.2" y2="723.38" stroke="#4a4a4a" stroke-width="0.8"/>
<line x1="21.7" y1="750.9" x2="54.6" y2="750.9" stroke="#4a4a4a" stroke-width="0.8"/>
<line x1="18.9" y1="737.14" x2="18.9" y2="764.62" stroke="#4a4a4a" stroke-width="0.8"/>
<line x1="18.9" y1="737.14" x2="21.7" y2="737.14" stroke="#4a4a4a" stroke-width="0.8"/>
<line x1="18.9" y1="764.62" x2="54.6" y2="764.62" stroke="#4a4a4a" stroke-width="0.8"/>
<line x1="16.2" y1="750.88" x2="16.2" y2="778.34" stroke="#4a4a4a" stroke-width="0.8"/>
<line x1="16.2" y1="750.88" x2="18.9" y2="750.88" stroke="#4a4a4a" stroke-width="0.8"/>
<line x1="16.2" y1="778.34" x2="54.6" y2="778.34" stroke="#4a4a4a" stroke-width="0.8"/>
<text x="45.8" y="546.62" font-size="5.6" text-anchor="middle" fill="#444" font-family='"Liberation Sans", sans-serif' font-weight="normal" font-style="normal" stroke="#444" stroke-width="0.18" stroke-linejoin="round">10</text>
<text x="44.9" y="556.32" font-size="5.6" text-anchor="middle" fill="#444" font-family='"Liberation Sans", sans-serif' font-weight="normal" font-style="normal" stroke="#444" stroke-width="0.18" stroke-linejoin="round">7</text>
<text x="42.1" y="569.12" font-size="5.6" text-anchor="middle" fill="#444" font-family='"Liberation Sans", sans-serif' font-weight="normal" font-style="normal" stroke="#444" stroke-width="0.18" stroke-linejoin="round">5</text>
<text x="39.6" y="586.62" font-size="5.6" text-anchor="middle" fill="#444" font-family='"Liberation Sans", sans-serif' font-weight="normal" font-style="normal" stroke="#444" stroke-width="0.18" stroke-linejoin="round">4</text>
<text x="37.2" y="611.12" font-size="5.6" text-anchor="middle" fill="#444" font-family='"Liberation Sans", sans-serif' font-weight="normal" font-style="normal" stroke="#444" stroke-width="0.18" stroke-linejoin="round">4</text>
<text x="44.7" y="618.42" font-size="5.6" text-anchor="middle" fill="#444" font-family='"Liberation Sans", sans-serif' font-weight="normal" font-style="normal" stroke="#444" stroke-width="0.18" stroke-linejoin="round">8</text>
<text x="47.1" y="628.82" font-size="5.6" text-anchor="middle" fill="#444" font-family='"Liberation Sans", sans-serif' font-weight="normal" font-style="normal" stroke="#444" stroke-width="0.18" stroke-linejoin="round">9</text>
<text x="34.5" y="630.32" font-size="5.6" text-anchor="middle" fill="#444" font-family='"Liberation Sans", sans-serif' font-weight="normal" font-style="normal" stroke="#444" stroke-width="0.18" stroke-linejoin="round">6</text>
<text x="30.2" y="646.62" font-size="5.6" text-anchor="middle" fill="#444" font-family='"Liberation Sans", sans-serif' font-weight="normal" font-style="normal" stroke="#444" stroke-width="0.18" stroke-linejoin="round">14</text>
<text x="27.8" y="662.12" font-size="5.6" text-anchor="middle" fill="#444" font-family='"Liberation Sans", sans-serif' font-weight="normal" font-style="normal" stroke="#444" stroke-width="0.18" stroke-linejoin="round">21</text>
<text x="25.3" y="676.02" font-size="5.6" text-anchor="middle" fill="#444" font-family='"Liberation Sans", sans-serif' font-weight="normal" font-style="normal" stroke="#444" stroke-width="0.18" stroke-linejoin="round">21</text>
<text x="22.9" y="690.32" font-size="5.6" text-anchor="middle" fill="#444" font-family='"Liberation Sans", sans-serif' font-weight="normal" font-style="normal" stroke="#444" stroke-width="0.18" stroke-linejoin="round">22</text>
<text x="20" y="704.12" font-size="5.6" text-anchor="middle" fill="#444" font-family='"Liberation Sans", sans-serif' font-weight="normal" font-style="normal" stroke="#444" stroke-width="0.18" stroke-linejoin="round">31</text>
<text x="17.5" y="718.02" font-size="5.6" text-anchor="middle" fill="#444" font-family='"Liberation Sans", sans-serif' font-weight="normal" font-style="normal" stroke="#444" stroke-width="0.18" stroke-linejoin="round">97</text>
<text x="15.1" y="732.52" font-size="5.6" text-anchor="middle" fill="#444" font-family='"Liberation Sans", sans-serif' font-weight="normal" font-style="normal" stroke="#444" stroke-width="0.18" stroke-linejoin="round">76</text>
<g transform="translate(55.4,0) scale(0.94,1) translate(-55.4,0)">
<text x="55.4" y="547.18" font-size="8" font-family='"Liberation Sans", sans-serif' fill="#2a2a2a" stroke="#2a2a2a" stroke-width="0.15" stroke-linejoin="round"><tspan font-style="italic">Lactiplantibacillus pentosus</tspan> 124-2 (NR 029133.1)</text>
<text x="55.4" y="560.9" font-size="8" font-family='"Liberation Sans", sans-serif' fill="#2a2a2a" stroke="#2a2a2a" stroke-width="0.15" stroke-linejoin="round"><tspan font-style="italic">Lactobacillus paraplantarum</tspan> NBRC 107151 (AB626065.1)</text>
<text x="55.4" y="574.62" font-size="8" font-family='"Liberation Sans", sans-serif' fill="#2a2a2a" stroke="#2a2a2a" stroke-width="0.15" stroke-linejoin="round"><tspan font-style="italic">Lactobacillus pentosus</tspan> JCM 1558 (LC071808.1)</text>
<text x="58.0" y="588.34" font-size="8" font-family='"Liberation Sans", sans-serif' font-weight="bold" font-style="italic" fill="#111" stroke="#111" stroke-width="0.15" stroke-linejoin="round">Lactiplantibacillus sp. G2</text>
<text x="55.4" y="602.06" font-size="8" font-family='"Liberation Sans", sans-serif' fill="#2a2a2a" stroke="#2a2a2a" stroke-width="0.15" stroke-linejoin="round"><tspan font-style="italic">Lactiplantibacillus plantarum</tspan> JCM 1149 (NR 115605.1)</text>
<text x="55.4" y="615.78" font-size="8" font-family='"Liberation Sans", sans-serif' fill="#2a2a2a" stroke="#2a2a2a" stroke-width="0.15" stroke-linejoin="round"><tspan font-style="italic">Lactobacillus pentosus</tspan> DSM 20314 (MN587972.1)</text>
<text x="55.4" y="629.5" font-size="8" font-family='"Liberation Sans", sans-serif' fill="#2a2a2a" stroke="#2a2a2a" stroke-width="0.15" stroke-linejoin="round"><tspan font-style="italic">Lactobacillus plantarum subsp. plantarum</tspan> JCM 1149 (LC064896.1)</text>
<text x="58.0" y="643.22" font-size="8" font-family='"Liberation Sans", sans-serif' font-weight="bold" font-style="italic" fill="#111" stroke="#111" stroke-width="0.15" stroke-linejoin="round">Lactiplantibacillus sp. G6</text>
<text x="55.4" y="656.94" font-size="8" font-family='"Liberation Sans", sans-serif' fill="#2a2a2a" stroke="#2a2a2a" stroke-width="0.15" stroke-linejoin="round"><tspan font-style="italic">Lactiplantibacillus plantarum</tspan> NBRC 15891 (NR 113338.1)</text>
<text x="55.4" y="670.66" font-size="8" font-family='"Liberation Sans", sans-serif' fill="#2a2a2a" stroke="#2a2a2a" stroke-width="0.15" stroke-linejoin="round"><tspan font-style="italic">Lactobacillus pentosus</tspan> NBRC 106467 (AB626060.1)</text>
<text x="55.4" y="684.38" font-size="8" font-family='"Liberation Sans", sans-serif' fill="#2a2a2a" stroke="#2a2a2a" stroke-width="0.15" stroke-linejoin="round"><tspan font-style="italic">Lactobacillus plantarum subsp. argentoratensis</tspan> JCM 16169 (LC258153.1)</text>
<text x="55.4" y="698.1" font-size="8" font-family='"Liberation Sans", sans-serif' fill="#2a2a2a" stroke="#2a2a2a" stroke-width="0.15" stroke-linejoin="round"><tspan font-style="italic">Lactobacillus plantarum subsp. argentoratensis</tspan> NBRC 106468 (AB626061.1)</text>
<text x="55.4" y="711.82" font-size="8" font-family='"Liberation Sans", sans-serif' fill="#2a2a2a" stroke="#2a2a2a" stroke-width="0.15" stroke-linejoin="round"><tspan font-style="italic">Lactobacillus pentosus</tspan> JCM 1558T (KX886789.1)</text>
<text x="55.4" y="725.54" font-size="8" font-family='"Liberation Sans", sans-serif' fill="#2a2a2a" stroke="#2a2a2a" stroke-width="0.15" stroke-linejoin="round"><tspan font-style="italic">Lactiplantibacillus plantarum</tspan> CGMCC1.2437 (MT975242.1)</text>
<text x="55.4" y="739.26" font-size="8" font-family='"Liberation Sans", sans-serif' fill="#2a2a2a" stroke="#2a2a2a" stroke-width="0.15" stroke-linejoin="round"><tspan font-style="italic">Lactiplantibacillus plantarum</tspan> CMGC2 (MT928890.1)</text>
<text x="55.4" y="752.98" font-size="8" font-family='"Liberation Sans", sans-serif' fill="#2a2a2a" stroke="#2a2a2a" stroke-width="0.15" stroke-linejoin="round"><tspan font-style="italic">Lactobacillus xiangfangensis</tspan> NBRC 108914 (AB907194.1)</text>
<text x="55.4" y="766.7" font-size="8" font-family='"Liberation Sans", sans-serif' fill="#2a2a2a" stroke="#2a2a2a" stroke-width="0.15" stroke-linejoin="round"><tspan font-style="italic">Lactiplantibacillus herbarum</tspan> TCF032-E4 (NR 145899.1)</text>
<text x="55.4" y="780.42" font-size="8" font-family='"Liberation Sans", sans-serif' fill="#2a2a2a" stroke="#2a2a2a" stroke-width="0.15" stroke-linejoin="round"><tspan font-style="italic">Paucilactobacillus suebicus</tspan> DSM 5007 (NR 114977.1)</text>
</g>
<text x="128.9" y="812.8" font-size="17" text-anchor="middle" fill="#111" font-family='"Liberation Serif", serif' font-weight="normal" font-style="normal" stroke="#111" stroke-width="0.05" stroke-linejoin="round">(D)</text>
<line x1="428.77" y1="610.28" x2="428.77" y2="616.24" stroke="#777" stroke-width="0.7"/>
<line x1="426.57" y1="610.28" x2="430.97" y2="610.28" stroke="#777" stroke-width="0.7"/>
<line x1="426.57" y1="616.24" x2="430.97" y2="616.24" stroke="#777" stroke-width="0.7"/>
<line x1="470.93" y1="683.2" x2="470.93" y2="705.52" stroke="#777" stroke-width="0.7"/>
<line x1="468.73" y1="683.2" x2="473.13" y2="683.2" stroke="#777" stroke-width="0.7"/>
<line x1="468.73" y1="705.52" x2="473.13" y2="705.52" stroke="#777" stroke-width="0.7"/>
<line x1="513.1" y1="716.3" x2="513.1" y2="718.54" stroke="#777" stroke-width="0.7"/>
<line x1="510.9" y1="716.3" x2="515.3" y2="716.3" stroke="#777" stroke-width="0.7"/>
<line x1="510.9" y1="718.54" x2="515.3" y2="718.54" stroke="#777" stroke-width="0.7"/>
<line x1="555.26" y1="712.96" x2="555.26" y2="715.93" stroke="#777" stroke-width="0.7"/>
<line x1="553.06" y1="712.96" x2="557.46" y2="712.96" stroke="#777" stroke-width="0.7"/>
<line x1="553.06" y1="715.93" x2="557.46" y2="715.93" stroke="#777" stroke-width="0.7"/>
<line x1="597.42" y1="718.16" x2="597.42" y2="724.12" stroke="#777" stroke-width="0.7"/>
<line x1="595.22" y1="718.16" x2="599.62" y2="718.16" stroke="#777" stroke-width="0.7"/>
<line x1="595.22" y1="724.12" x2="599.62" y2="724.12" stroke="#777" stroke-width="0.7"/>
<line x1="428.77" y1="585.73" x2="428.77" y2="587.22" stroke="#f08a8a" stroke-width="0.7"/>
<line x1="426.57" y1="585.73" x2="430.97" y2="585.73" stroke="#f08a8a" stroke-width="0.7"/>
<line x1="426.57" y1="587.22" x2="430.97" y2="587.22" stroke="#f08a8a" stroke-width="0.7"/>
<line x1="470.93" y1="678.73" x2="470.93" y2="692.12" stroke="#f08a8a" stroke-width="0.7"/>
<line x1="468.73" y1="678.73" x2="473.13" y2="678.73" stroke="#f08a8a" stroke-width="0.7"/>
<line x1="468.73" y1="692.12" x2="473.13" y2="692.12" stroke="#f08a8a" stroke-width="0.7"/>
<line x1="513.1" y1="686.92" x2="513.1" y2="689.15" stroke="#f08a8a" stroke-width="0.7"/>
<line x1="510.9" y1="686.92" x2="515.3" y2="686.92" stroke="#f08a8a" stroke-width="0.7"/>
<line x1="510.9" y1="689.15" x2="515.3" y2="689.15" stroke="#f08a8a" stroke-width="0.7"/>
<line x1="555.26" y1="688.03" x2="555.26" y2="702.91" stroke="#f08a8a" stroke-width="0.7"/>
<line x1="553.06" y1="688.03" x2="557.46" y2="688.03" stroke="#f08a8a" stroke-width="0.7"/>
<line x1="553.06" y1="702.91" x2="557.46" y2="702.91" stroke="#f08a8a" stroke-width="0.7"/>
<line x1="597.42" y1="677.99" x2="597.42" y2="679.48" stroke="#f08a8a" stroke-width="0.7"/>
<line x1="595.22" y1="677.99" x2="599.62" y2="677.99" stroke="#f08a8a" stroke-width="0.7"/>
<line x1="595.22" y1="679.48" x2="599.62" y2="679.48" stroke="#f08a8a" stroke-width="0.7"/>
<polyline points="428.77,613.26 470.93,694.36 513.1,717.42 555.26,714.44 597.42,721.14" fill="none" stroke="#555" stroke-width="0.8" stroke-dasharray="2.5,1.6"/>
<polyline points="428.77,586.48 470.93,685.43 513.1,688.03 555.26,695.47 597.42,678.73" fill="none" stroke="#ec3a3e" stroke-width="0.8" stroke-dasharray="2.5,1.6"/>
<rect x="426.58" y="611.08" width="4.37" height="4.37" fill="#3c3c3c" stroke="none" stroke-width="0"/>
<rect x="468.75" y="692.17" width="4.37" height="4.37" fill="#3c3c3c" stroke="none" stroke-width="0"/>
<rect x="510.91" y="715.24" width="4.37" height="4.37" fill="#3c3c3c" stroke="none" stroke-width="0"/>
<rect x="553.08" y="712.26" width="4.37" height="4.37" fill="#3c3c3c" stroke="none" stroke-width="0"/>
<rect x="595.24" y="718.96" width="4.37" height="4.37" fill="#3c3c3c" stroke="none" stroke-width="0"/>
<circle cx="428.77" cy="586.48" r="2.55" fill="#ec3a3e"/>
<circle cx="470.93" cy="685.43" r="2.55" fill="#ec3a3e"/>
<circle cx="513.1" cy="688.03" r="2.55" fill="#ec3a3e"/>
<circle cx="555.26" cy="695.47" r="2.55" fill="#ec3a3e"/>
<circle cx="597.42" cy="678.73" r="2.55" fill="#ec3a3e"/>
<line x1="386.6" y1="546.3" x2="386.6" y2="750.4" stroke="#222" stroke-width="1"/>
<line x1="386.6" y1="750.4" x2="639.59" y2="750.4" stroke="#222" stroke-width="1"/>
<line x1="382.6" y1="546.3" x2="386.6" y2="546.3" stroke="#222" stroke-width="0.9"/>
<text x="378.4" y="549.02" font-size="8.4" text-anchor="end" fill="#222" font-family='"Liberation Sans", sans-serif' font-weight="normal" font-style="normal" stroke="#222" stroke-width="0.18" stroke-linejoin="round">100%</text>
<line x1="384.6" y1="564.9" x2="386.6" y2="564.9" stroke="#222" stroke-width="0.8"/>
<line x1="382.6" y1="583.5" x2="386.6" y2="583.5" stroke="#222" stroke-width="0.9"/>
<text x="378.4" y="586.22" font-size="8.4" text-anchor="end" fill="#222" font-family='"Liberation Sans", sans-serif' font-weight="normal" font-style="normal" stroke="#222" stroke-width="0.18" stroke-linejoin="round">95%</text>
<line x1="384.6" y1="602.1" x2="386.6" y2="602.1" stroke="#222" stroke-width="0.8"/>
<line x1="382.6" y1="620.7" x2="386.6" y2="620.7" stroke="#222" stroke-width="0.9"/>
<text x="378.4" y="623.42" font-size="8.4" text-anchor="end" fill="#222" font-family='"Liberation Sans", sans-serif' font-weight="normal" font-style="normal" stroke="#222" stroke-width="0.18" stroke-linejoin="round">90%</text>
<line x1="384.6" y1="639.3" x2="386.6" y2="639.3" stroke="#222" stroke-width="0.8"/>
<line x1="382.6" y1="657.9" x2="386.6" y2="657.9" stroke="#222" stroke-width="0.9"/>
<text x="378.4" y="660.62" font-size="8.4" text-anchor="end" fill="#222" font-family='"Liberation Sans", sans-serif' font-weight="normal" font-style="normal" stroke="#222" stroke-width="0.18" stroke-linejoin="round">85%</text>
<line x1="384.6" y1="676.5" x2="386.6" y2="676.5" stroke="#222" stroke-width="0.8"/>
<line x1="382.6" y1="695.1" x2="386.6" y2="695.1" stroke="#222" stroke-width="0.9"/>
<text x="378.4" y="697.82" font-size="8.4" text-anchor="end" fill="#222" font-family='"Liberation Sans", sans-serif' font-weight="normal" font-style="normal" stroke="#222" stroke-width="0.18" stroke-linejoin="round">80%</text>
<line x1="384.6" y1="713.7" x2="386.6" y2="713.7" stroke="#222" stroke-width="0.8"/>
<line x1="382.6" y1="732.3" x2="386.6" y2="732.3" stroke="#222" stroke-width="0.9"/>
<text x="378.4" y="735.02" font-size="8.4" text-anchor="end" fill="#222" font-family='"Liberation Sans", sans-serif' font-weight="normal" font-style="normal" stroke="#222" stroke-width="0.18" stroke-linejoin="round">75%</text>
<line x1="386.6" y1="750.4" x2="386.6" y2="754.2" stroke="#222" stroke-width="0.9"/>
<text x="386.6" y="764.12" font-size="8.4" text-anchor="middle" fill="#222" font-family='"Liberation Sans", sans-serif' font-weight="normal" font-style="normal" stroke="#222" stroke-width="0.18" stroke-linejoin="round">3</text>
<line x1="428.77" y1="750.4" x2="428.77" y2="752.4" stroke="#222" stroke-width="0.8"/>
<line x1="470.93" y1="750.4" x2="470.93" y2="754.2" stroke="#222" stroke-width="0.9"/>
<text x="470.93" y="764.12" font-size="8.4" text-anchor="middle" fill="#222" font-family='"Liberation Sans", sans-serif' font-weight="normal" font-style="normal" stroke="#222" stroke-width="0.18" stroke-linejoin="round">4</text>
<line x1="513.1" y1="750.4" x2="513.1" y2="752.4" stroke="#222" stroke-width="0.8"/>
<line x1="555.26" y1="750.4" x2="555.26" y2="754.2" stroke="#222" stroke-width="0.9"/>
<text x="555.26" y="764.12" font-size="8.4" text-anchor="middle" fill="#222" font-family='"Liberation Sans", sans-serif' font-weight="normal" font-style="normal" stroke="#222" stroke-width="0.18" stroke-linejoin="round">5</text>
<line x1="597.42" y1="750.4" x2="597.42" y2="752.4" stroke="#222" stroke-width="0.8"/>
<line x1="639.59" y1="750.4" x2="639.59" y2="754.2" stroke="#222" stroke-width="0.9"/>
<text x="639.59" y="764.12" font-size="8.4" text-anchor="middle" fill="#222" font-family='"Liberation Sans", sans-serif' font-weight="normal" font-style="normal" stroke="#222" stroke-width="0.18" stroke-linejoin="round">6</text>
<text x="353.4" y="645.5" font-size="10.3" text-anchor="middle" fill="#111" font-family='"Liberation Sans", sans-serif' font-weight="normal" font-style="normal" transform="rotate(-90 353.4 645.5)" stroke="#111" stroke-width="0.18" stroke-linejoin="round">Nitrite Degradation Rate</text>
<text x="513.25" y="780.8" font-size="10.7" text-anchor="middle" fill="#111" font-family='"Liberation Sans", sans-serif' font-weight="normal" font-style="normal" stroke="#111" stroke-width="0.18" stroke-linejoin="round">Lactic Acid Adjusted pH</text>
<text x="516.1" y="812.1" font-size="17" text-anchor="middle" fill="#111" font-family='"Liberation Serif", serif' font-weight="normal" font-style="normal" stroke="#111" stroke-width="0.05" stroke-linejoin="round">(E)</text>
<rect x="569.3" y="546.1" width="71" height="28.4" fill="#fff" stroke="#8a8a8a" stroke-width="0.8"/>
<line x1="570.4" y1="553.9" x2="593.3" y2="553.9" stroke="#777" stroke-width="0.9" stroke-dasharray="2.5,1.6"/>
<rect x="580.02" y="551.72" width="4.37" height="4.37" fill="#3c3c3c" stroke="none" stroke-width="0"/>
<text x="597.7" y="557.57" font-size="10.2" text-anchor="start" fill="#111" font-family='"Liberation Sans", sans-serif' font-weight="normal" font-style="normal" stroke="#111" stroke-width="0.18" stroke-linejoin="round">at 12 hrs</text>
<line x1="570.4" y1="566.8" x2="593.3" y2="566.8" stroke="#ec3a3e" stroke-width="0.9" stroke-dasharray="2.5,1.6"/>
<circle cx="582.2" cy="566.8" r="2.55" fill="#ec3a3e"/>
<text x="597.7" y="570.47" font-size="10.2" text-anchor="start" fill="#111" font-family='"Liberation Sans", sans-serif' font-weight="normal" font-style="normal" stroke="#111" stroke-width="0.18" stroke-linejoin="round">at 24 hrs</text>
</svg>
</body></html>
